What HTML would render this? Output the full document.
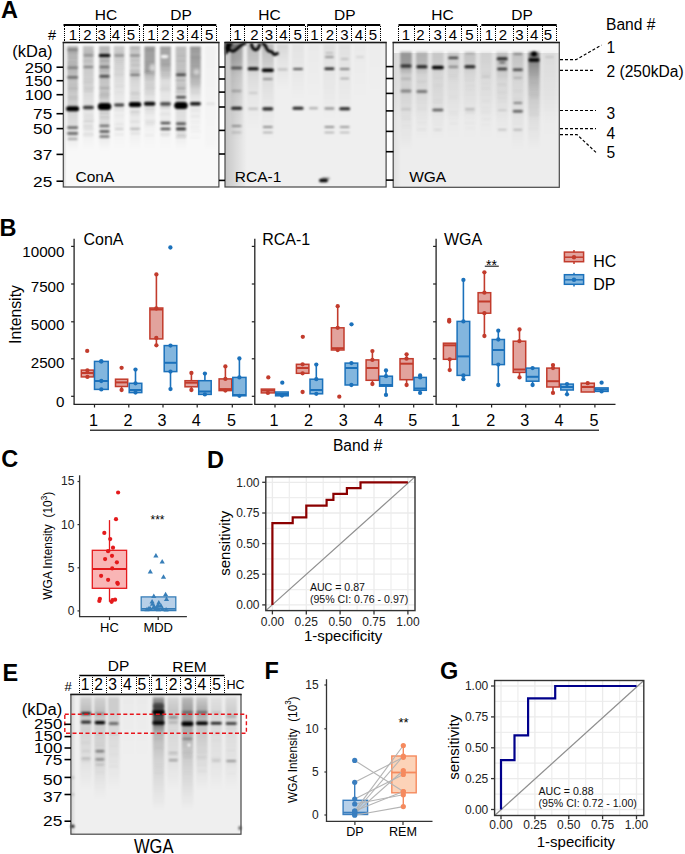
<!DOCTYPE html>
<html><head><meta charset="utf-8"><style>
html,body{margin:0;padding:0;background:#fff;width:685px;height:854px;overflow:hidden;}
svg{display:block;font-family:"Liberation Sans", sans-serif;}
</style></head><body>
<svg width="685" height="854" viewBox="0 0 685 854">
<defs>
<filter id="b1" filterUnits="userSpaceOnUse" x="0" y="0" width="685" height="854"><feGaussianBlur stdDeviation="1.3 0.9"/></filter>
<filter id="b2" filterUnits="userSpaceOnUse" x="0" y="0" width="685" height="854"><feGaussianBlur stdDeviation="1.5"/></filter>
<filter id="b3" filterUnits="userSpaceOnUse" x="0" y="0" width="685" height="854"><feGaussianBlur stdDeviation="1.3 1.5"/></filter>
<linearGradient id="g1" x1="0" y1="0" x2="1" y2="0"><stop offset="0.000" stop-color="#000" stop-opacity="0.140"/><stop offset="1.000" stop-color="#000" stop-opacity="0.000"/></linearGradient>
<linearGradient id="g2" x1="0" y1="0" x2="0" y2="1"><stop offset="0.000" stop-color="#000" stop-opacity="0.280"/><stop offset="0.286" stop-color="#000" stop-opacity="0.220"/><stop offset="0.524" stop-color="#000" stop-opacity="0.170"/><stop offset="0.762" stop-color="#000" stop-opacity="0.110"/><stop offset="0.905" stop-color="#000" stop-opacity="0.040"/><stop offset="1.000" stop-color="#000" stop-opacity="0.000"/></linearGradient>
<linearGradient id="g3" x1="0" y1="0" x2="0" y2="1"><stop offset="0.000" stop-color="#000" stop-opacity="0.200"/><stop offset="0.286" stop-color="#000" stop-opacity="0.170"/><stop offset="0.524" stop-color="#000" stop-opacity="0.100"/><stop offset="0.762" stop-color="#000" stop-opacity="0.050"/><stop offset="0.905" stop-color="#000" stop-opacity="0.020"/><stop offset="1.000" stop-color="#000" stop-opacity="0.000"/></linearGradient>
<linearGradient id="g4" x1="0" y1="0" x2="0" y2="1"><stop offset="0.000" stop-color="#000" stop-opacity="0.260"/><stop offset="0.286" stop-color="#000" stop-opacity="0.220"/><stop offset="0.524" stop-color="#000" stop-opacity="0.160"/><stop offset="0.762" stop-color="#000" stop-opacity="0.100"/><stop offset="0.905" stop-color="#000" stop-opacity="0.040"/><stop offset="1.000" stop-color="#000" stop-opacity="0.000"/></linearGradient>
<linearGradient id="g5" x1="0" y1="0" x2="0" y2="1"><stop offset="0.000" stop-color="#000" stop-opacity="0.180"/><stop offset="0.286" stop-color="#000" stop-opacity="0.120"/><stop offset="0.524" stop-color="#000" stop-opacity="0.060"/><stop offset="0.762" stop-color="#000" stop-opacity="0.030"/><stop offset="0.905" stop-color="#000" stop-opacity="0.010"/><stop offset="1.000" stop-color="#000" stop-opacity="0.000"/></linearGradient>
<linearGradient id="g6" x1="0" y1="0" x2="0" y2="1"><stop offset="0.000" stop-color="#000" stop-opacity="0.200"/><stop offset="0.286" stop-color="#000" stop-opacity="0.150"/><stop offset="0.524" stop-color="#000" stop-opacity="0.080"/><stop offset="0.762" stop-color="#000" stop-opacity="0.050"/><stop offset="0.905" stop-color="#000" stop-opacity="0.020"/><stop offset="1.000" stop-color="#000" stop-opacity="0.000"/></linearGradient>
<linearGradient id="g7" x1="0" y1="0" x2="0" y2="1"><stop offset="0.000" stop-color="#000" stop-opacity="0.360"/><stop offset="0.231" stop-color="#000" stop-opacity="0.340"/><stop offset="0.327" stop-color="#000" stop-opacity="0.160"/><stop offset="0.519" stop-color="#000" stop-opacity="0.080"/><stop offset="0.760" stop-color="#000" stop-opacity="0.030"/><stop offset="0.904" stop-color="#000" stop-opacity="0.010"/><stop offset="1.000" stop-color="#000" stop-opacity="0.000"/></linearGradient>
<linearGradient id="g8" x1="0" y1="0" x2="0" y2="1"><stop offset="0.000" stop-color="#000" stop-opacity="0.340"/><stop offset="0.183" stop-color="#000" stop-opacity="0.320"/><stop offset="0.308" stop-color="#000" stop-opacity="0.120"/><stop offset="0.519" stop-color="#000" stop-opacity="0.060"/><stop offset="0.760" stop-color="#000" stop-opacity="0.040"/><stop offset="0.904" stop-color="#000" stop-opacity="0.010"/><stop offset="1.000" stop-color="#000" stop-opacity="0.000"/></linearGradient>
<linearGradient id="g9" x1="0" y1="0" x2="0" y2="1"><stop offset="0.000" stop-color="#000" stop-opacity="0.240"/><stop offset="0.279" stop-color="#000" stop-opacity="0.200"/><stop offset="0.519" stop-color="#000" stop-opacity="0.120"/><stop offset="0.760" stop-color="#000" stop-opacity="0.090"/><stop offset="0.904" stop-color="#000" stop-opacity="0.030"/><stop offset="1.000" stop-color="#000" stop-opacity="0.000"/></linearGradient>
<linearGradient id="g10" x1="0" y1="0" x2="0" y2="1"><stop offset="0.000" stop-color="#000" stop-opacity="0.360"/><stop offset="0.309" stop-color="#000" stop-opacity="0.320"/><stop offset="0.468" stop-color="#000" stop-opacity="0.140"/><stop offset="0.574" stop-color="#000" stop-opacity="0.060"/><stop offset="0.840" stop-color="#000" stop-opacity="0.020"/><stop offset="1.000" stop-color="#000" stop-opacity="0.000"/></linearGradient>
<linearGradient id="g11" x1="0" y1="0" x2="0" y2="1"><stop offset="0.000" stop-color="#000" stop-opacity="0.030"/><stop offset="0.952" stop-color="#000" stop-opacity="0.010"/><stop offset="1.000" stop-color="#000" stop-opacity="0.000"/></linearGradient>
<linearGradient id="g12" x1="0" y1="0" x2="1" y2="0"><stop offset="0.000" stop-color="#000" stop-opacity="0.170"/><stop offset="1.000" stop-color="#000" stop-opacity="0.000"/></linearGradient>
<linearGradient id="g13" x1="0" y1="0" x2="0" y2="1"><stop offset="0.000" stop-color="#000" stop-opacity="0.300"/><stop offset="0.167" stop-color="#000" stop-opacity="0.250"/><stop offset="0.323" stop-color="#000" stop-opacity="0.120"/><stop offset="0.583" stop-color="#000" stop-opacity="0.060"/><stop offset="1.000" stop-color="#000" stop-opacity="0.000"/></linearGradient>
<linearGradient id="g14" x1="0" y1="0" x2="0" y2="1"><stop offset="0.000" stop-color="#000" stop-opacity="0.220"/><stop offset="0.186" stop-color="#000" stop-opacity="0.180"/><stop offset="0.360" stop-color="#000" stop-opacity="0.080"/><stop offset="0.651" stop-color="#000" stop-opacity="0.030"/><stop offset="1.000" stop-color="#000" stop-opacity="0.000"/></linearGradient>
<linearGradient id="g15" x1="0" y1="0" x2="0" y2="1"><stop offset="0.000" stop-color="#000" stop-opacity="0.220"/><stop offset="0.167" stop-color="#000" stop-opacity="0.160"/><stop offset="0.323" stop-color="#000" stop-opacity="0.080"/><stop offset="0.583" stop-color="#000" stop-opacity="0.040"/><stop offset="1.000" stop-color="#000" stop-opacity="0.000"/></linearGradient>
<linearGradient id="g16" x1="0" y1="0" x2="0" y2="1"><stop offset="0.000" stop-color="#000" stop-opacity="0.100"/><stop offset="0.348" stop-color="#000" stop-opacity="0.050"/><stop offset="1.000" stop-color="#000" stop-opacity="0.000"/></linearGradient>
<linearGradient id="g17" x1="0" y1="0" x2="0" y2="1"><stop offset="0.000" stop-color="#000" stop-opacity="0.050"/><stop offset="0.286" stop-color="#000" stop-opacity="0.040"/><stop offset="1.000" stop-color="#000" stop-opacity="0.000"/></linearGradient>
<linearGradient id="g18" x1="0" y1="0" x2="0" y2="1"><stop offset="0.000" stop-color="#000" stop-opacity="0.020"/><stop offset="1.000" stop-color="#000" stop-opacity="0.000"/></linearGradient>
<linearGradient id="g19" x1="0" y1="0" x2="0" y2="1"><stop offset="0.000" stop-color="#000" stop-opacity="0.060"/><stop offset="0.211" stop-color="#000" stop-opacity="0.050"/><stop offset="1.000" stop-color="#000" stop-opacity="0.000"/></linearGradient>
<linearGradient id="g20" x1="0" y1="0" x2="0" y2="1"><stop offset="0.000" stop-color="#000" stop-opacity="0.060"/><stop offset="0.211" stop-color="#000" stop-opacity="0.050"/><stop offset="1.000" stop-color="#000" stop-opacity="0.000"/></linearGradient>
<linearGradient id="g21" x1="0" y1="0" x2="0" y2="1"><stop offset="0.000" stop-color="#000" stop-opacity="0.020"/><stop offset="1.000" stop-color="#000" stop-opacity="0.000"/></linearGradient>
<linearGradient id="g22" x1="0" y1="0" x2="0" y2="1"><stop offset="0.000" stop-color="#000" stop-opacity="0.010"/><stop offset="1.000" stop-color="#000" stop-opacity="0.000"/></linearGradient>
<linearGradient id="g23" x1="0" y1="0" x2="1" y2="0"><stop offset="0.000" stop-color="#000" stop-opacity="0.060"/><stop offset="1.000" stop-color="#000" stop-opacity="0.000"/></linearGradient>
<linearGradient id="g24" x1="0" y1="0" x2="0" y2="1"><stop offset="0.000" stop-color="#000" stop-opacity="0.050"/><stop offset="0.600" stop-color="#000" stop-opacity="0.030"/><stop offset="1.000" stop-color="#000" stop-opacity="0.000"/></linearGradient>
<linearGradient id="g25" x1="0" y1="0" x2="0" y2="1"><stop offset="0.000" stop-color="#000" stop-opacity="1.000"/><stop offset="0.850" stop-color="#000" stop-opacity="0.900"/><stop offset="1.000" stop-color="#000" stop-opacity="0.000"/></linearGradient>
<linearGradient id="g26" x1="0" y1="0" x2="0" y2="1"><stop offset="0.000" stop-color="#000" stop-opacity="0.350"/><stop offset="0.143" stop-color="#000" stop-opacity="0.300"/><stop offset="0.235" stop-color="#000" stop-opacity="0.100"/><stop offset="0.490" stop-color="#000" stop-opacity="0.070"/><stop offset="0.898" stop-color="#000" stop-opacity="0.020"/><stop offset="1.000" stop-color="#000" stop-opacity="0.000"/></linearGradient>
<linearGradient id="g27" x1="0" y1="0" x2="0" y2="1"><stop offset="0.000" stop-color="#000" stop-opacity="0.220"/><stop offset="0.159" stop-color="#000" stop-opacity="0.180"/><stop offset="0.261" stop-color="#000" stop-opacity="0.070"/><stop offset="0.545" stop-color="#000" stop-opacity="0.050"/><stop offset="1.000" stop-color="#000" stop-opacity="0.000"/></linearGradient>
<linearGradient id="g28" x1="0" y1="0" x2="0" y2="1"><stop offset="0.000" stop-color="#000" stop-opacity="0.120"/><stop offset="0.159" stop-color="#000" stop-opacity="0.100"/><stop offset="0.261" stop-color="#000" stop-opacity="0.060"/><stop offset="0.545" stop-color="#000" stop-opacity="0.050"/><stop offset="1.000" stop-color="#000" stop-opacity="0.000"/></linearGradient>
<linearGradient id="g29" x1="0" y1="0" x2="0" y2="1"><stop offset="0.000" stop-color="#000" stop-opacity="0.120"/><stop offset="0.159" stop-color="#000" stop-opacity="0.080"/><stop offset="0.318" stop-color="#000" stop-opacity="0.040"/><stop offset="1.000" stop-color="#000" stop-opacity="0.000"/></linearGradient>
<linearGradient id="g30" x1="0" y1="0" x2="0" y2="1"><stop offset="0.000" stop-color="#000" stop-opacity="0.140"/><stop offset="0.159" stop-color="#000" stop-opacity="0.100"/><stop offset="0.318" stop-color="#000" stop-opacity="0.040"/><stop offset="1.000" stop-color="#000" stop-opacity="0.000"/></linearGradient>
<linearGradient id="g31" x1="0" y1="0" x2="0" y2="1"><stop offset="0.000" stop-color="#000" stop-opacity="0.080"/><stop offset="0.159" stop-color="#000" stop-opacity="0.060"/><stop offset="0.318" stop-color="#000" stop-opacity="0.040"/><stop offset="1.000" stop-color="#000" stop-opacity="0.000"/></linearGradient>
<linearGradient id="g32" x1="0" y1="0" x2="0" y2="1"><stop offset="0.000" stop-color="#000" stop-opacity="0.160"/><stop offset="0.205" stop-color="#000" stop-opacity="0.120"/><stop offset="0.318" stop-color="#000" stop-opacity="0.060"/><stop offset="1.000" stop-color="#000" stop-opacity="0.000"/></linearGradient>
<linearGradient id="g33" x1="0" y1="0" x2="0" y2="1"><stop offset="0.000" stop-color="#000" stop-opacity="0.140"/><stop offset="0.184" stop-color="#000" stop-opacity="0.100"/><stop offset="0.286" stop-color="#000" stop-opacity="0.060"/><stop offset="0.694" stop-color="#000" stop-opacity="0.040"/><stop offset="1.000" stop-color="#000" stop-opacity="0.000"/></linearGradient>
<linearGradient id="g34" x1="0" y1="0" x2="0" y2="1"><stop offset="0.000" stop-color="#000" stop-opacity="0.450"/><stop offset="0.102" stop-color="#000" stop-opacity="0.400"/><stop offset="0.286" stop-color="#000" stop-opacity="0.220"/><stop offset="0.490" stop-color="#000" stop-opacity="0.120"/><stop offset="0.694" stop-color="#000" stop-opacity="0.060"/><stop offset="1.000" stop-color="#000" stop-opacity="0.000"/></linearGradient>
<linearGradient id="g35" x1="0" y1="0" x2="0" y2="1"><stop offset="0.000" stop-color="#000" stop-opacity="0.030"/><stop offset="1.000" stop-color="#000" stop-opacity="0.000"/></linearGradient>
<linearGradient id="g36" x1="0" y1="0" x2="1" y2="0"><stop offset="0.000" stop-color="#000" stop-opacity="0.120"/><stop offset="1.000" stop-color="#000" stop-opacity="0.000"/></linearGradient>
<linearGradient id="g37" x1="0" y1="0" x2="0" y2="1"><stop offset="0.000" stop-color="#000" stop-opacity="0.120"/><stop offset="0.161" stop-color="#000" stop-opacity="0.220"/><stop offset="0.301" stop-color="#000" stop-opacity="0.120"/><stop offset="0.677" stop-color="#000" stop-opacity="0.060"/><stop offset="1.000" stop-color="#000" stop-opacity="0.000"/></linearGradient>
<linearGradient id="g38" x1="0" y1="0" x2="0" y2="1"><stop offset="0.000" stop-color="#000" stop-opacity="0.120"/><stop offset="0.146" stop-color="#000" stop-opacity="0.200"/><stop offset="0.272" stop-color="#000" stop-opacity="0.140"/><stop offset="0.612" stop-color="#000" stop-opacity="0.100"/><stop offset="0.903" stop-color="#000" stop-opacity="0.020"/><stop offset="1.000" stop-color="#000" stop-opacity="0.000"/></linearGradient>
<linearGradient id="g39" x1="0" y1="0" x2="0" y2="1"><stop offset="0.000" stop-color="#000" stop-opacity="0.140"/><stop offset="0.161" stop-color="#000" stop-opacity="0.140"/><stop offset="0.301" stop-color="#000" stop-opacity="0.100"/><stop offset="0.677" stop-color="#000" stop-opacity="0.050"/><stop offset="1.000" stop-color="#000" stop-opacity="0.000"/></linearGradient>
<linearGradient id="g40" x1="0" y1="0" x2="0" y2="1"><stop offset="0.000" stop-color="#000" stop-opacity="0.020"/><stop offset="1.000" stop-color="#000" stop-opacity="0.000"/></linearGradient>
<linearGradient id="g41" x1="0" y1="0" x2="0" y2="1"><stop offset="0.000" stop-color="#000" stop-opacity="0.020"/><stop offset="1.000" stop-color="#000" stop-opacity="0.000"/></linearGradient>
<linearGradient id="g42" x1="0" y1="0" x2="0" y2="1"><stop offset="0.000" stop-color="#000" stop-opacity="0.320"/><stop offset="0.071" stop-color="#000" stop-opacity="0.500"/><stop offset="0.133" stop-color="#000" stop-opacity="0.700"/><stop offset="0.221" stop-color="#000" stop-opacity="0.680"/><stop offset="0.265" stop-color="#000" stop-opacity="0.400"/><stop offset="0.336" stop-color="#000" stop-opacity="0.220"/><stop offset="0.558" stop-color="#000" stop-opacity="0.120"/><stop offset="0.912" stop-color="#000" stop-opacity="0.030"/><stop offset="1.000" stop-color="#000" stop-opacity="0.000"/></linearGradient>
<linearGradient id="g43" x1="0" y1="0" x2="0" y2="1"><stop offset="0.000" stop-color="#000" stop-opacity="0.100"/><stop offset="0.161" stop-color="#000" stop-opacity="0.180"/><stop offset="0.301" stop-color="#000" stop-opacity="0.100"/><stop offset="0.677" stop-color="#000" stop-opacity="0.060"/><stop offset="1.000" stop-color="#000" stop-opacity="0.000"/></linearGradient>
<linearGradient id="g44" x1="0" y1="0" x2="0" y2="1"><stop offset="0.000" stop-color="#000" stop-opacity="0.220"/><stop offset="0.133" stop-color="#000" stop-opacity="0.350"/><stop offset="0.248" stop-color="#000" stop-opacity="0.320"/><stop offset="0.381" stop-color="#000" stop-opacity="0.220"/><stop offset="0.558" stop-color="#000" stop-opacity="0.140"/><stop offset="0.912" stop-color="#000" stop-opacity="0.030"/><stop offset="1.000" stop-color="#000" stop-opacity="0.000"/></linearGradient>
<linearGradient id="g45" x1="0" y1="0" x2="0" y2="1"><stop offset="0.000" stop-color="#000" stop-opacity="0.140"/><stop offset="0.161" stop-color="#000" stop-opacity="0.300"/><stop offset="0.301" stop-color="#000" stop-opacity="0.180"/><stop offset="0.677" stop-color="#000" stop-opacity="0.080"/><stop offset="1.000" stop-color="#000" stop-opacity="0.000"/></linearGradient>
<linearGradient id="g46" x1="0" y1="0" x2="0" y2="1"><stop offset="0.000" stop-color="#000" stop-opacity="0.060"/><stop offset="0.161" stop-color="#000" stop-opacity="0.100"/><stop offset="0.301" stop-color="#000" stop-opacity="0.080"/><stop offset="0.677" stop-color="#000" stop-opacity="0.050"/><stop offset="1.000" stop-color="#000" stop-opacity="0.000"/></linearGradient>
<linearGradient id="g47" x1="0" y1="0" x2="0" y2="1"><stop offset="0.000" stop-color="#000" stop-opacity="0.080"/><stop offset="0.161" stop-color="#000" stop-opacity="0.140"/><stop offset="0.301" stop-color="#000" stop-opacity="0.080"/><stop offset="0.677" stop-color="#000" stop-opacity="0.050"/><stop offset="1.000" stop-color="#000" stop-opacity="0.000"/></linearGradient>
</defs>
<rect width="685" height="854" fill="#fff"/>
<text x="1.0" y="18.0" font-size="23.5" text-anchor="start" font-weight="bold" fill="#000" >A</text>
<rect x="63.3" y="42.5" width="155.6" height="144.5" fill="#f8f8f8" stroke="none" stroke-width="1" />
<rect x="63.3" y="42.5" width="3.5" height="144.5" fill="url(#g1)" stroke="none" stroke-width="1" />
<rect x="67.2" y="45.0" width="10.8" height="105.0" fill="url(#g2)" filter="url(#b3)"/>
<rect x="83.0" y="45.0" width="10.8" height="105.0" fill="url(#g3)" filter="url(#b3)"/>
<rect x="99.1" y="45.0" width="10.8" height="105.0" fill="url(#g4)" filter="url(#b3)"/>
<rect x="113.8" y="45.0" width="10.8" height="105.0" fill="url(#g5)" filter="url(#b3)"/>
<rect x="129.6" y="45.0" width="10.8" height="105.0" fill="url(#g6)" filter="url(#b3)"/>
<rect x="144.3" y="46.0" width="10.8" height="104.0" fill="url(#g7)" filter="url(#b3)"/>
<rect x="160.1" y="46.0" width="10.8" height="104.0" fill="url(#g8)" filter="url(#b3)"/>
<rect x="175.6" y="46.0" width="10.8" height="104.0" fill="url(#g9)" filter="url(#b3)"/>
<rect x="190.0" y="46.0" width="10.8" height="94.0" fill="url(#g10)" filter="url(#b3)"/>
<rect x="205.1" y="45.0" width="10.8" height="105.0" fill="url(#g11)" filter="url(#b3)"/>
<ellipse cx="164.5" cy="56.5" rx="4" ry="1.8" fill="#fff" fill-opacity="0.9" filter="url(#b1)"/>
<ellipse cx="152.5" cy="68" rx="3" ry="4" fill="#fff" fill-opacity="0.6" filter="url(#b2)"/>
<ellipse cx="196.5" cy="72" rx="3" ry="3" fill="#fff" fill-opacity="0.5" filter="url(#b2)"/>
<rect x="68.1" y="75.6" width="9.5" height="1.7" rx="0.9" fill="#000" fill-opacity="0.037" filter="url(#b1)"/>
<rect x="67.9" y="79.5" width="9.4" height="1.6" rx="0.8" fill="#000" fill-opacity="0.031" filter="url(#b1)"/>
<rect x="67.1" y="52.7" width="10.7" height="1.3" rx="0.7" fill="#000" fill-opacity="0.033" filter="url(#b1)"/>
<rect x="68.1" y="66.5" width="10.3" height="1.6" rx="0.8" fill="#000" fill-opacity="0.067" filter="url(#b1)"/>
<rect x="68.2" y="135.2" width="9.8" height="1.3" rx="0.7" fill="#000" fill-opacity="0.03" filter="url(#b1)"/>
<rect x="68.2" y="56.8" width="9.6" height="1.8" rx="0.9" fill="#000" fill-opacity="0.046" filter="url(#b1)"/>
<rect x="67.9" y="104.5" width="9.5" height="1.3" rx="0.6" fill="#000" fill-opacity="0.05" filter="url(#b1)"/>
<rect x="67.6" y="64.8" width="9.9" height="1.8" rx="0.9" fill="#000" fill-opacity="0.07" filter="url(#b1)"/>
<rect x="67.8" y="87.5" width="10.5" height="1.4" rx="0.7" fill="#000" fill-opacity="0.046" filter="url(#b1)"/>
<rect x="67.8" y="98.5" width="10.6" height="1.5" rx="0.7" fill="#000" fill-opacity="0.06" filter="url(#b1)"/>
<rect x="67.2" y="135.5" width="10.6" height="1.4" rx="0.7" fill="#000" fill-opacity="0.034" filter="url(#b1)"/>
<rect x="67.5" y="90.6" width="10.6" height="1.8" rx="0.9" fill="#000" fill-opacity="0.029" filter="url(#b1)"/>
<rect x="67.7" y="125.8" width="10.3" height="1.8" rx="0.9" fill="#000" fill-opacity="0.047" filter="url(#b1)"/>
<rect x="68.2" y="87.6" width="10.1" height="1.9" rx="0.9" fill="#000" fill-opacity="0.08" filter="url(#b1)"/>
<rect x="67.3" y="51.5" width="11.0" height="2.0" rx="1.0" fill="#000" fill-opacity="0.071" filter="url(#b1)"/>
<rect x="68.1" y="72.1" width="9.4" height="1.7" rx="0.8" fill="#000" fill-opacity="0.051" filter="url(#b1)"/>
<rect x="66.7" y="61.6" width="10.6" height="1.3" rx="0.7" fill="#000" fill-opacity="0.034" filter="url(#b1)"/>
<rect x="68.4" y="68.7" width="9.5" height="1.6" rx="0.8" fill="#000" fill-opacity="0.052" filter="url(#b1)"/>
<rect x="67.7" y="96.3" width="10.8" height="1.5" rx="0.7" fill="#000" fill-opacity="0.083" filter="url(#b1)"/>
<rect x="67.7" y="84.1" width="10.9" height="1.4" rx="0.7" fill="#000" fill-opacity="0.05" filter="url(#b1)"/>
<rect x="67.2" y="62.1" width="10.2" height="1.8" rx="0.9" fill="#000" fill-opacity="0.042" filter="url(#b1)"/>
<rect x="67.5" y="70.0" width="10.0" height="1.8" rx="0.9" fill="#000" fill-opacity="0.027" filter="url(#b1)"/>
<rect x="83.2" y="132.8" width="10.4" height="1.9" rx="0.9" fill="#000" fill-opacity="0.071" filter="url(#b1)"/>
<rect x="83.4" y="50.9" width="10.8" height="2.0" rx="1.0" fill="#000" fill-opacity="0.084" filter="url(#b1)"/>
<rect x="82.6" y="82.1" width="10.4" height="1.3" rx="0.6" fill="#000" fill-opacity="0.052" filter="url(#b1)"/>
<rect x="83.0" y="52.5" width="9.9" height="1.3" rx="0.6" fill="#000" fill-opacity="0.04" filter="url(#b1)"/>
<rect x="82.9" y="46.4" width="9.9" height="1.2" rx="0.6" fill="#000" fill-opacity="0.037" filter="url(#b1)"/>
<rect x="83.0" y="125.8" width="9.8" height="1.5" rx="0.8" fill="#000" fill-opacity="0.066" filter="url(#b1)"/>
<rect x="83.4" y="79.3" width="11.0" height="1.7" rx="0.8" fill="#000" fill-opacity="0.035" filter="url(#b1)"/>
<rect x="82.9" y="90.3" width="9.9" height="1.5" rx="0.7" fill="#000" fill-opacity="0.032" filter="url(#b1)"/>
<rect x="82.3" y="121.6" width="10.9" height="1.7" rx="0.9" fill="#000" fill-opacity="0.037" filter="url(#b1)"/>
<rect x="82.6" y="59.3" width="10.2" height="2.2" rx="1.1" fill="#000" fill-opacity="0.061" filter="url(#b1)"/>
<rect x="83.1" y="124.9" width="10.0" height="1.4" rx="0.7" fill="#000" fill-opacity="0.071" filter="url(#b1)"/>
<rect x="83.8" y="116.5" width="9.9" height="1.4" rx="0.7" fill="#000" fill-opacity="0.061" filter="url(#b1)"/>
<rect x="83.6" y="119.8" width="10.7" height="2.0" rx="1.0" fill="#000" fill-opacity="0.089" filter="url(#b1)"/>
<rect x="83.5" y="113.7" width="9.9" height="1.2" rx="0.6" fill="#000" fill-opacity="0.041" filter="url(#b1)"/>
<rect x="82.8" y="48.5" width="10.5" height="2.2" rx="1.1" fill="#000" fill-opacity="0.045" filter="url(#b1)"/>
<rect x="83.6" y="86.9" width="10.9" height="1.6" rx="0.8" fill="#000" fill-opacity="0.086" filter="url(#b1)"/>
<rect x="83.1" y="66.2" width="9.7" height="1.8" rx="0.9" fill="#000" fill-opacity="0.041" filter="url(#b1)"/>
<rect x="83.2" y="127.9" width="10.4" height="2.0" rx="1.0" fill="#000" fill-opacity="0.08" filter="url(#b1)"/>
<rect x="83.7" y="53.7" width="10.6" height="2.0" rx="1.0" fill="#000" fill-opacity="0.069" filter="url(#b1)"/>
<rect x="83.9" y="89.5" width="9.9" height="2.0" rx="1.0" fill="#000" fill-opacity="0.038" filter="url(#b1)"/>
<rect x="82.8" y="134.5" width="10.9" height="1.9" rx="1.0" fill="#000" fill-opacity="0.052" filter="url(#b1)"/>
<rect x="82.5" y="61.5" width="10.8" height="2.0" rx="1.0" fill="#000" fill-opacity="0.035" filter="url(#b1)"/>
<rect x="100.0" y="59.5" width="10.4" height="1.6" rx="0.8" fill="#000" fill-opacity="0.079" filter="url(#b1)"/>
<rect x="98.3" y="96.0" width="11.0" height="1.8" rx="0.9" fill="#000" fill-opacity="0.035" filter="url(#b1)"/>
<rect x="99.0" y="93.9" width="10.8" height="2.0" rx="1.0" fill="#000" fill-opacity="0.086" filter="url(#b1)"/>
<rect x="99.3" y="65.3" width="9.7" height="1.8" rx="0.9" fill="#000" fill-opacity="0.043" filter="url(#b1)"/>
<rect x="98.6" y="69.8" width="10.9" height="1.6" rx="0.8" fill="#000" fill-opacity="0.053" filter="url(#b1)"/>
<rect x="100.0" y="87.6" width="10.0" height="2.1" rx="1.1" fill="#000" fill-opacity="0.064" filter="url(#b1)"/>
<rect x="99.8" y="91.8" width="9.4" height="1.6" rx="0.8" fill="#000" fill-opacity="0.061" filter="url(#b1)"/>
<rect x="100.1" y="62.8" width="9.6" height="1.7" rx="0.8" fill="#000" fill-opacity="0.027" filter="url(#b1)"/>
<rect x="99.2" y="112.1" width="10.2" height="1.8" rx="0.9" fill="#000" fill-opacity="0.062" filter="url(#b1)"/>
<rect x="99.7" y="117.6" width="9.8" height="1.5" rx="0.7" fill="#000" fill-opacity="0.034" filter="url(#b1)"/>
<rect x="99.3" y="116.2" width="10.6" height="2.1" rx="1.1" fill="#000" fill-opacity="0.059" filter="url(#b1)"/>
<rect x="99.4" y="86.4" width="10.2" height="1.9" rx="0.9" fill="#000" fill-opacity="0.066" filter="url(#b1)"/>
<rect x="99.0" y="87.2" width="10.9" height="1.9" rx="0.9" fill="#000" fill-opacity="0.061" filter="url(#b1)"/>
<rect x="99.0" y="125.7" width="10.3" height="2.1" rx="1.1" fill="#000" fill-opacity="0.086" filter="url(#b1)"/>
<rect x="98.9" y="122.8" width="10.1" height="1.3" rx="0.6" fill="#000" fill-opacity="0.036" filter="url(#b1)"/>
<rect x="99.4" y="67.8" width="10.6" height="2.1" rx="1.0" fill="#000" fill-opacity="0.032" filter="url(#b1)"/>
<rect x="99.9" y="60.0" width="9.6" height="2.1" rx="1.0" fill="#000" fill-opacity="0.072" filter="url(#b1)"/>
<rect x="100.1" y="134.2" width="10.0" height="1.7" rx="0.8" fill="#000" fill-opacity="0.041" filter="url(#b1)"/>
<rect x="99.0" y="136.2" width="10.1" height="1.7" rx="0.9" fill="#000" fill-opacity="0.079" filter="url(#b1)"/>
<rect x="99.0" y="77.2" width="10.5" height="1.2" rx="0.6" fill="#000" fill-opacity="0.039" filter="url(#b1)"/>
<rect x="98.9" y="96.5" width="9.9" height="1.8" rx="0.9" fill="#000" fill-opacity="0.055" filter="url(#b1)"/>
<rect x="99.9" y="92.5" width="10.7" height="2.2" rx="1.1" fill="#000" fill-opacity="0.031" filter="url(#b1)"/>
<rect x="113.2" y="55.8" width="10.6" height="1.5" rx="0.7" fill="#000" fill-opacity="0.024" filter="url(#b1)"/>
<rect x="114.4" y="58.1" width="10.7" height="1.5" rx="0.7" fill="#000" fill-opacity="0.03" filter="url(#b1)"/>
<rect x="114.0" y="59.9" width="10.5" height="1.3" rx="0.6" fill="#000" fill-opacity="0.047" filter="url(#b1)"/>
<rect x="114.4" y="51.2" width="9.5" height="2.1" rx="1.1" fill="#000" fill-opacity="0.039" filter="url(#b1)"/>
<rect x="113.2" y="104.1" width="10.8" height="1.3" rx="0.6" fill="#000" fill-opacity="0.043" filter="url(#b1)"/>
<rect x="113.8" y="124.4" width="10.3" height="2.1" rx="1.1" fill="#000" fill-opacity="0.031" filter="url(#b1)"/>
<rect x="114.4" y="70.7" width="9.7" height="1.3" rx="0.7" fill="#000" fill-opacity="0.02" filter="url(#b1)"/>
<rect x="113.9" y="60.9" width="9.9" height="1.5" rx="0.8" fill="#000" fill-opacity="0.017" filter="url(#b1)"/>
<rect x="114.4" y="115.3" width="9.6" height="1.5" rx="0.8" fill="#000" fill-opacity="0.025" filter="url(#b1)"/>
<rect x="113.2" y="47.8" width="10.6" height="1.8" rx="0.9" fill="#000" fill-opacity="0.024" filter="url(#b1)"/>
<rect x="115.0" y="63.2" width="9.5" height="2.0" rx="1.0" fill="#000" fill-opacity="0.032" filter="url(#b1)"/>
<rect x="114.7" y="85.5" width="10.0" height="1.7" rx="0.9" fill="#000" fill-opacity="0.032" filter="url(#b1)"/>
<rect x="113.6" y="108.6" width="10.7" height="1.9" rx="1.0" fill="#000" fill-opacity="0.049" filter="url(#b1)"/>
<rect x="114.3" y="104.2" width="9.4" height="1.3" rx="0.7" fill="#000" fill-opacity="0.029" filter="url(#b1)"/>
<rect x="114.0" y="52.8" width="9.6" height="1.3" rx="0.6" fill="#000" fill-opacity="0.041" filter="url(#b1)"/>
<rect x="114.5" y="122.8" width="9.8" height="1.4" rx="0.7" fill="#000" fill-opacity="0.045" filter="url(#b1)"/>
<rect x="113.7" y="72.9" width="10.1" height="1.5" rx="0.7" fill="#000" fill-opacity="0.031" filter="url(#b1)"/>
<rect x="114.4" y="133.4" width="9.8" height="2.2" rx="1.1" fill="#000" fill-opacity="0.049" filter="url(#b1)"/>
<rect x="113.5" y="74.3" width="10.0" height="1.7" rx="0.8" fill="#000" fill-opacity="0.027" filter="url(#b1)"/>
<rect x="114.5" y="92.0" width="9.4" height="1.5" rx="0.7" fill="#000" fill-opacity="0.022" filter="url(#b1)"/>
<rect x="113.9" y="54.4" width="9.4" height="1.5" rx="0.8" fill="#000" fill-opacity="0.029" filter="url(#b1)"/>
<rect x="113.9" y="67.3" width="10.6" height="1.9" rx="0.9" fill="#000" fill-opacity="0.035" filter="url(#b1)"/>
<rect x="129.9" y="111.1" width="9.9" height="2.2" rx="1.1" fill="#000" fill-opacity="0.082" filter="url(#b1)"/>
<rect x="130.5" y="59.6" width="9.4" height="2.0" rx="1.0" fill="#000" fill-opacity="0.073" filter="url(#b1)"/>
<rect x="130.0" y="127.5" width="10.7" height="1.3" rx="0.7" fill="#000" fill-opacity="0.067" filter="url(#b1)"/>
<rect x="130.1" y="93.6" width="10.7" height="2.0" rx="1.0" fill="#000" fill-opacity="0.059" filter="url(#b1)"/>
<rect x="130.0" y="99.4" width="10.5" height="1.4" rx="0.7" fill="#000" fill-opacity="0.083" filter="url(#b1)"/>
<rect x="130.0" y="48.8" width="9.5" height="2.0" rx="1.0" fill="#000" fill-opacity="0.035" filter="url(#b1)"/>
<rect x="129.9" y="97.0" width="10.5" height="1.7" rx="0.8" fill="#000" fill-opacity="0.067" filter="url(#b1)"/>
<rect x="130.3" y="46.4" width="10.2" height="1.7" rx="0.9" fill="#000" fill-opacity="0.077" filter="url(#b1)"/>
<rect x="130.4" y="106.4" width="9.8" height="1.3" rx="0.6" fill="#000" fill-opacity="0.031" filter="url(#b1)"/>
<rect x="129.3" y="70.1" width="10.6" height="2.2" rx="1.1" fill="#000" fill-opacity="0.073" filter="url(#b1)"/>
<rect x="129.7" y="91.0" width="10.5" height="2.0" rx="1.0" fill="#000" fill-opacity="0.051" filter="url(#b1)"/>
<rect x="129.6" y="102.4" width="9.6" height="1.5" rx="0.7" fill="#000" fill-opacity="0.067" filter="url(#b1)"/>
<rect x="130.4" y="114.0" width="9.4" height="1.3" rx="0.6" fill="#000" fill-opacity="0.046" filter="url(#b1)"/>
<rect x="130.0" y="70.7" width="10.5" height="1.5" rx="0.7" fill="#000" fill-opacity="0.069" filter="url(#b1)"/>
<rect x="130.2" y="93.0" width="9.5" height="2.1" rx="1.0" fill="#000" fill-opacity="0.056" filter="url(#b1)"/>
<rect x="130.9" y="64.3" width="9.4" height="1.7" rx="0.8" fill="#000" fill-opacity="0.089" filter="url(#b1)"/>
<rect x="130.0" y="120.9" width="9.8" height="1.4" rx="0.7" fill="#000" fill-opacity="0.088" filter="url(#b1)"/>
<rect x="130.3" y="132.2" width="9.6" height="1.7" rx="0.9" fill="#000" fill-opacity="0.04" filter="url(#b1)"/>
<rect x="130.4" y="132.7" width="10.2" height="2.1" rx="1.0" fill="#000" fill-opacity="0.035" filter="url(#b1)"/>
<rect x="130.5" y="110.4" width="10.2" height="1.2" rx="0.6" fill="#000" fill-opacity="0.042" filter="url(#b1)"/>
<rect x="130.0" y="46.7" width="9.8" height="1.3" rx="0.7" fill="#000" fill-opacity="0.058" filter="url(#b1)"/>
<rect x="130.8" y="77.3" width="9.4" height="2.0" rx="1.0" fill="#000" fill-opacity="0.047" filter="url(#b1)"/>
<rect x="145.0" y="122.3" width="10.5" height="2.1" rx="1.1" fill="#000" fill-opacity="0.035" filter="url(#b1)"/>
<rect x="144.1" y="72.5" width="11.0" height="1.8" rx="0.9" fill="#000" fill-opacity="0.05" filter="url(#b1)"/>
<rect x="144.7" y="79.2" width="9.4" height="1.3" rx="0.7" fill="#000" fill-opacity="0.054" filter="url(#b1)"/>
<rect x="145.4" y="122.2" width="9.8" height="1.5" rx="0.7" fill="#000" fill-opacity="0.045" filter="url(#b1)"/>
<rect x="144.1" y="92.5" width="10.9" height="2.1" rx="1.0" fill="#000" fill-opacity="0.039" filter="url(#b1)"/>
<rect x="144.8" y="120.0" width="10.9" height="1.7" rx="0.9" fill="#000" fill-opacity="0.067" filter="url(#b1)"/>
<rect x="145.0" y="111.5" width="10.1" height="2.0" rx="1.0" fill="#000" fill-opacity="0.03" filter="url(#b1)"/>
<rect x="143.6" y="105.0" width="10.9" height="1.3" rx="0.7" fill="#000" fill-opacity="0.045" filter="url(#b1)"/>
<rect x="144.1" y="88.9" width="10.6" height="2.2" rx="1.1" fill="#000" fill-opacity="0.049" filter="url(#b1)"/>
<rect x="144.3" y="69.9" width="10.3" height="1.6" rx="0.8" fill="#000" fill-opacity="0.068" filter="url(#b1)"/>
<rect x="143.9" y="61.4" width="10.8" height="1.7" rx="0.8" fill="#000" fill-opacity="0.037" filter="url(#b1)"/>
<rect x="145.3" y="66.4" width="10.1" height="1.3" rx="0.7" fill="#000" fill-opacity="0.084" filter="url(#b1)"/>
<rect x="144.7" y="63.8" width="9.5" height="1.4" rx="0.7" fill="#000" fill-opacity="0.033" filter="url(#b1)"/>
<rect x="144.9" y="69.7" width="10.6" height="1.6" rx="0.8" fill="#000" fill-opacity="0.063" filter="url(#b1)"/>
<rect x="144.6" y="84.0" width="9.9" height="1.3" rx="0.6" fill="#000" fill-opacity="0.06" filter="url(#b1)"/>
<rect x="144.1" y="71.3" width="10.2" height="1.8" rx="0.9" fill="#000" fill-opacity="0.088" filter="url(#b1)"/>
<rect x="144.5" y="124.7" width="9.8" height="1.6" rx="0.8" fill="#000" fill-opacity="0.041" filter="url(#b1)"/>
<rect x="144.8" y="87.0" width="10.8" height="1.2" rx="0.6" fill="#000" fill-opacity="0.087" filter="url(#b1)"/>
<rect x="145.2" y="49.0" width="10.1" height="1.8" rx="0.9" fill="#000" fill-opacity="0.072" filter="url(#b1)"/>
<rect x="144.9" y="46.0" width="10.7" height="2.1" rx="1.0" fill="#000" fill-opacity="0.052" filter="url(#b1)"/>
<rect x="144.4" y="134.6" width="9.6" height="1.7" rx="0.9" fill="#000" fill-opacity="0.043" filter="url(#b1)"/>
<rect x="144.8" y="108.1" width="10.4" height="2.0" rx="1.0" fill="#000" fill-opacity="0.086" filter="url(#b1)"/>
<rect x="159.5" y="87.9" width="10.6" height="1.4" rx="0.7" fill="#000" fill-opacity="0.062" filter="url(#b1)"/>
<rect x="160.4" y="130.0" width="9.6" height="1.5" rx="0.7" fill="#000" fill-opacity="0.068" filter="url(#b1)"/>
<rect x="160.2" y="104.0" width="9.5" height="1.7" rx="0.9" fill="#000" fill-opacity="0.071" filter="url(#b1)"/>
<rect x="159.9" y="99.4" width="10.3" height="1.2" rx="0.6" fill="#000" fill-opacity="0.051" filter="url(#b1)"/>
<rect x="160.9" y="73.4" width="10.4" height="2.1" rx="1.0" fill="#000" fill-opacity="0.056" filter="url(#b1)"/>
<rect x="159.7" y="89.3" width="10.9" height="1.9" rx="1.0" fill="#000" fill-opacity="0.042" filter="url(#b1)"/>
<rect x="160.3" y="74.2" width="10.5" height="1.6" rx="0.8" fill="#000" fill-opacity="0.028" filter="url(#b1)"/>
<rect x="161.2" y="69.8" width="9.7" height="1.2" rx="0.6" fill="#000" fill-opacity="0.069" filter="url(#b1)"/>
<rect x="160.9" y="76.8" width="9.7" height="2.0" rx="1.0" fill="#000" fill-opacity="0.053" filter="url(#b1)"/>
<rect x="159.6" y="113.5" width="11.0" height="1.5" rx="0.8" fill="#000" fill-opacity="0.059" filter="url(#b1)"/>
<rect x="159.8" y="120.9" width="10.6" height="1.5" rx="0.7" fill="#000" fill-opacity="0.042" filter="url(#b1)"/>
<rect x="160.2" y="132.8" width="9.7" height="1.6" rx="0.8" fill="#000" fill-opacity="0.058" filter="url(#b1)"/>
<rect x="160.0" y="106.8" width="10.0" height="1.4" rx="0.7" fill="#000" fill-opacity="0.087" filter="url(#b1)"/>
<rect x="160.1" y="134.8" width="9.4" height="1.6" rx="0.8" fill="#000" fill-opacity="0.036" filter="url(#b1)"/>
<rect x="160.3" y="127.7" width="11.0" height="2.1" rx="1.1" fill="#000" fill-opacity="0.083" filter="url(#b1)"/>
<rect x="160.8" y="76.3" width="10.6" height="1.2" rx="0.6" fill="#000" fill-opacity="0.039" filter="url(#b1)"/>
<rect x="160.4" y="106.8" width="9.9" height="1.4" rx="0.7" fill="#000" fill-opacity="0.051" filter="url(#b1)"/>
<rect x="159.8" y="46.6" width="10.9" height="1.3" rx="0.7" fill="#000" fill-opacity="0.045" filter="url(#b1)"/>
<rect x="159.9" y="133.7" width="10.7" height="2.0" rx="1.0" fill="#000" fill-opacity="0.04" filter="url(#b1)"/>
<rect x="160.5" y="85.3" width="10.0" height="2.1" rx="1.1" fill="#000" fill-opacity="0.03" filter="url(#b1)"/>
<rect x="161.4" y="63.8" width="9.4" height="1.6" rx="0.8" fill="#000" fill-opacity="0.05" filter="url(#b1)"/>
<rect x="160.2" y="120.2" width="9.4" height="1.3" rx="0.6" fill="#000" fill-opacity="0.075" filter="url(#b1)"/>
<rect x="175.9" y="130.0" width="10.8" height="1.5" rx="0.8" fill="#000" fill-opacity="0.043" filter="url(#b1)"/>
<rect x="176.3" y="70.8" width="9.8" height="1.9" rx="1.0" fill="#000" fill-opacity="0.087" filter="url(#b1)"/>
<rect x="175.0" y="74.7" width="10.6" height="2.1" rx="1.1" fill="#000" fill-opacity="0.044" filter="url(#b1)"/>
<rect x="175.5" y="103.9" width="9.7" height="1.7" rx="0.8" fill="#000" fill-opacity="0.086" filter="url(#b1)"/>
<rect x="176.0" y="133.3" width="9.8" height="1.6" rx="0.8" fill="#000" fill-opacity="0.087" filter="url(#b1)"/>
<rect x="175.2" y="90.9" width="10.7" height="1.9" rx="1.0" fill="#000" fill-opacity="0.085" filter="url(#b1)"/>
<rect x="176.2" y="121.1" width="9.9" height="1.5" rx="0.8" fill="#000" fill-opacity="0.076" filter="url(#b1)"/>
<rect x="175.6" y="79.0" width="9.7" height="2.0" rx="1.0" fill="#000" fill-opacity="0.076" filter="url(#b1)"/>
<rect x="175.2" y="68.7" width="10.3" height="1.5" rx="0.8" fill="#000" fill-opacity="0.031" filter="url(#b1)"/>
<rect x="176.8" y="135.6" width="9.8" height="1.3" rx="0.6" fill="#000" fill-opacity="0.083" filter="url(#b1)"/>
<rect x="176.2" y="55.1" width="10.1" height="1.4" rx="0.7" fill="#000" fill-opacity="0.058" filter="url(#b1)"/>
<rect x="176.0" y="83.9" width="10.6" height="2.0" rx="1.0" fill="#000" fill-opacity="0.066" filter="url(#b1)"/>
<rect x="176.6" y="106.6" width="9.8" height="1.8" rx="0.9" fill="#000" fill-opacity="0.035" filter="url(#b1)"/>
<rect x="175.7" y="80.2" width="9.8" height="1.4" rx="0.7" fill="#000" fill-opacity="0.073" filter="url(#b1)"/>
<rect x="176.2" y="60.2" width="9.9" height="1.6" rx="0.8" fill="#000" fill-opacity="0.083" filter="url(#b1)"/>
<rect x="175.3" y="136.4" width="10.7" height="1.9" rx="0.9" fill="#000" fill-opacity="0.059" filter="url(#b1)"/>
<rect x="175.6" y="136.2" width="10.7" height="2.0" rx="1.0" fill="#000" fill-opacity="0.033" filter="url(#b1)"/>
<rect x="175.9" y="129.5" width="9.5" height="1.4" rx="0.7" fill="#000" fill-opacity="0.03" filter="url(#b1)"/>
<rect x="176.6" y="134.5" width="10.0" height="2.1" rx="1.0" fill="#000" fill-opacity="0.064" filter="url(#b1)"/>
<rect x="175.9" y="87.2" width="10.9" height="1.3" rx="0.7" fill="#000" fill-opacity="0.043" filter="url(#b1)"/>
<rect x="175.6" y="100.6" width="10.0" height="1.3" rx="0.7" fill="#000" fill-opacity="0.066" filter="url(#b1)"/>
<rect x="175.9" y="64.9" width="10.4" height="1.4" rx="0.7" fill="#000" fill-opacity="0.043" filter="url(#b1)"/>
<rect x="190.8" y="47.3" width="9.7" height="1.5" rx="0.8" fill="#000" fill-opacity="0.026" filter="url(#b1)"/>
<rect x="190.7" y="64.9" width="9.5" height="1.3" rx="0.7" fill="#000" fill-opacity="0.043" filter="url(#b1)"/>
<rect x="190.8" y="82.3" width="9.5" height="1.4" rx="0.7" fill="#000" fill-opacity="0.034" filter="url(#b1)"/>
<rect x="190.2" y="109.2" width="9.9" height="2.2" rx="1.1" fill="#000" fill-opacity="0.029" filter="url(#b1)"/>
<rect x="190.2" y="74.4" width="10.0" height="2.1" rx="1.0" fill="#000" fill-opacity="0.035" filter="url(#b1)"/>
<rect x="189.7" y="137.0" width="10.6" height="1.4" rx="0.7" fill="#000" fill-opacity="0.028" filter="url(#b1)"/>
<rect x="189.9" y="46.7" width="10.7" height="1.6" rx="0.8" fill="#000" fill-opacity="0.047" filter="url(#b1)"/>
<rect x="190.2" y="126.5" width="9.4" height="1.8" rx="0.9" fill="#000" fill-opacity="0.031" filter="url(#b1)"/>
<rect x="189.6" y="104.5" width="10.4" height="1.6" rx="0.8" fill="#000" fill-opacity="0.047" filter="url(#b1)"/>
<rect x="190.0" y="91.8" width="10.2" height="2.1" rx="1.1" fill="#000" fill-opacity="0.02" filter="url(#b1)"/>
<rect x="190.4" y="56.2" width="10.9" height="1.4" rx="0.7" fill="#000" fill-opacity="0.032" filter="url(#b1)"/>
<rect x="191.0" y="57.9" width="10.1" height="1.3" rx="0.6" fill="#000" fill-opacity="0.048" filter="url(#b1)"/>
<rect x="190.8" y="130.3" width="10.4" height="2.0" rx="1.0" fill="#000" fill-opacity="0.029" filter="url(#b1)"/>
<rect x="190.0" y="60.6" width="10.0" height="2.0" rx="1.0" fill="#000" fill-opacity="0.043" filter="url(#b1)"/>
<rect x="190.0" y="121.6" width="10.0" height="1.7" rx="0.9" fill="#000" fill-opacity="0.021" filter="url(#b1)"/>
<rect x="189.8" y="80.9" width="10.5" height="2.1" rx="1.0" fill="#000" fill-opacity="0.019" filter="url(#b1)"/>
<rect x="191.1" y="49.7" width="9.4" height="2.0" rx="1.0" fill="#000" fill-opacity="0.035" filter="url(#b1)"/>
<rect x="190.3" y="57.0" width="10.4" height="1.5" rx="0.8" fill="#000" fill-opacity="0.036" filter="url(#b1)"/>
<rect x="190.1" y="84.4" width="10.4" height="1.6" rx="0.8" fill="#000" fill-opacity="0.035" filter="url(#b1)"/>
<rect x="190.5" y="86.2" width="10.2" height="1.4" rx="0.7" fill="#000" fill-opacity="0.016" filter="url(#b1)"/>
<rect x="190.5" y="115.6" width="9.6" height="1.7" rx="0.8" fill="#000" fill-opacity="0.042" filter="url(#b1)"/>
<rect x="190.6" y="55.9" width="9.5" height="1.6" rx="0.8" fill="#000" fill-opacity="0.019" filter="url(#b1)"/>
<rect x="66.1" y="106.2" width="13.0" height="5.0" rx="2.5" fill="#000" fill-opacity="1" filter="url(#b1)"/>
<rect x="67.1" y="48.7" width="11.0" height="2.0" rx="1.0" fill="#000" fill-opacity="0.35" filter="url(#b1)"/>
<rect x="67.1" y="66.7" width="11.0" height="2.0" rx="1.0" fill="#000" fill-opacity="0.35" filter="url(#b1)"/>
<rect x="67.1" y="76.3" width="11.0" height="2.2" rx="1.1" fill="#000" fill-opacity="0.5" filter="url(#b1)"/>
<rect x="67.1" y="126.5" width="11.0" height="2.2" rx="1.1" fill="#000" fill-opacity="0.6" filter="url(#b1)"/>
<rect x="67.1" y="132.0" width="11.0" height="2.8" rx="1.4" fill="#000" fill-opacity="0.55" filter="url(#b1)"/>
<rect x="67.6" y="138.0" width="10.0" height="2.0" rx="1.0" fill="#000" fill-opacity="0.3" filter="url(#b1)"/>
<rect x="82.9" y="105.8" width="11.0" height="3.5" rx="1.8" fill="#000" fill-opacity="0.75" filter="url(#b1)"/>
<rect x="83.4" y="54.5" width="10.0" height="2.0" rx="1.0" fill="#000" fill-opacity="0.3" filter="url(#b1)"/>
<rect x="83.4" y="66.0" width="10.0" height="2.0" rx="1.0" fill="#000" fill-opacity="0.35" filter="url(#b1)"/>
<rect x="97.8" y="103.1" width="13.5" height="7.0" rx="3.5" fill="#000" fill-opacity="1" filter="url(#b1)"/>
<rect x="98.8" y="54.0" width="11.5" height="3.0" rx="1.5" fill="#000" fill-opacity="0.95" filter="url(#b1)"/>
<rect x="99.5" y="66.0" width="10.0" height="2.0" rx="1.0" fill="#000" fill-opacity="0.45" filter="url(#b1)"/>
<rect x="99.5" y="75.0" width="10.0" height="2.4" rx="1.2" fill="#000" fill-opacity="0.65" filter="url(#b1)"/>
<rect x="99.5" y="124.7" width="10.0" height="2.0" rx="1.0" fill="#000" fill-opacity="0.55" filter="url(#b1)"/>
<rect x="99.5" y="130.3" width="10.0" height="2.4" rx="1.2" fill="#000" fill-opacity="0.65" filter="url(#b1)"/>
<rect x="99.5" y="135.6" width="10.0" height="2.0" rx="1.0" fill="#000" fill-opacity="0.55" filter="url(#b1)"/>
<rect x="114.2" y="103.6" width="10.0" height="2.8" rx="1.4" fill="#000" fill-opacity="0.75" filter="url(#b1)"/>
<rect x="114.2" y="54.5" width="10.0" height="2.0" rx="1.0" fill="#000" fill-opacity="0.35" filter="url(#b1)"/>
<rect x="114.7" y="128.0" width="9.0" height="2.0" rx="1.0" fill="#000" fill-opacity="0.15" filter="url(#b1)"/>
<rect x="128.8" y="101.9" width="12.5" height="5.0" rx="2.5" fill="#000" fill-opacity="1" filter="url(#b1)"/>
<rect x="130.0" y="54.5" width="10.0" height="2.0" rx="1.0" fill="#000" fill-opacity="0.35" filter="url(#b1)"/>
<rect x="130.0" y="73.7" width="10.0" height="2.2" rx="1.1" fill="#000" fill-opacity="0.45" filter="url(#b1)"/>
<rect x="130.0" y="127.9" width="10.0" height="2.0" rx="1.0" fill="#000" fill-opacity="0.2" filter="url(#b1)"/>
<rect x="143.9" y="101.7" width="11.5" height="4.0" rx="2.0" fill="#000" fill-opacity="0.95" filter="url(#b1)"/>
<rect x="160.0" y="101.9" width="11.0" height="3.8" rx="1.9" fill="#000" fill-opacity="0.65" filter="url(#b1)"/>
<rect x="160.5" y="121.9" width="10.0" height="2.4" rx="1.2" fill="#000" fill-opacity="0.7" filter="url(#b1)"/>
<rect x="160.5" y="127.7" width="10.0" height="2.4" rx="1.2" fill="#000" fill-opacity="0.65" filter="url(#b1)"/>
<rect x="174.2" y="102.0" width="13.5" height="7.0" rx="3.5" fill="#000" fill-opacity="1" filter="url(#b1)"/>
<rect x="176.0" y="96.3" width="10.0" height="2.0" rx="1.0" fill="#000" fill-opacity="0.8" filter="url(#b1)"/>
<rect x="176.0" y="73.6" width="10.0" height="2.4" rx="1.2" fill="#000" fill-opacity="0.65" filter="url(#b1)"/>
<rect x="176.5" y="87.4" width="9.0" height="1.8" rx="0.9" fill="#000" fill-opacity="0.25" filter="url(#b1)"/>
<rect x="176.0" y="122.5" width="10.0" height="2.4" rx="1.2" fill="#000" fill-opacity="0.65" filter="url(#b1)"/>
<rect x="176.0" y="127.6" width="10.0" height="2.6" rx="1.3" fill="#000" fill-opacity="0.8" filter="url(#b1)"/>
<rect x="189.9" y="102.0" width="11.0" height="3.5" rx="1.8" fill="#000" fill-opacity="0.9" filter="url(#b1)"/>
<rect x="206.0" y="102.8" width="9.0" height="2.0" rx="1.0" fill="#000" fill-opacity="0.08" filter="url(#b1)"/>
<rect x="64.0" y="43.2" width="154.3" height="2.2" fill="#fdfdfd" stroke="none" stroke-width="1" filter="url(#b1)"/>
<text x="75.5" y="182.2" font-size="15.5" text-anchor="start" font-weight="normal" fill="#000" >ConA</text>
<rect x="63.3" y="42.5" width="155.6" height="144.5" fill="none" stroke="#474747" stroke-width="1.2" />
<line x1="62.7" y1="42.5" x2="219.5" y2="42.5" stroke="#1a1a1a" stroke-width="1.5" />
<rect x="225.0" y="42.5" width="161.1" height="144.5" fill="#efefef" stroke="none" stroke-width="1" />
<rect x="225.0" y="42.5" width="22.0" height="144.5" fill="url(#g12)" stroke="none" stroke-width="1" />
<rect x="230.6" y="44.0" width="12.0" height="96.0" fill="url(#g13)" filter="url(#b3)"/>
<rect x="247.2" y="44.0" width="12.0" height="86.0" fill="url(#g14)" filter="url(#b3)"/>
<rect x="261.8" y="44.0" width="12.0" height="96.0" fill="url(#g15)" filter="url(#b3)"/>
<rect x="276.6" y="44.0" width="12.0" height="46.0" fill="url(#g16)" filter="url(#b3)"/>
<rect x="292.0" y="44.0" width="12.0" height="56.0" fill="url(#g17)" filter="url(#b3)"/>
<rect x="307.5" y="44.0" width="12.0" height="56.0" fill="url(#g18)" filter="url(#b3)"/>
<rect x="323.4" y="44.0" width="12.0" height="76.0" fill="url(#g19)" filter="url(#b3)"/>
<rect x="338.7" y="44.0" width="12.0" height="76.0" fill="url(#g20)" filter="url(#b3)"/>
<rect x="354.0" y="44.0" width="12.0" height="56.0" fill="url(#g21)" filter="url(#b3)"/>
<rect x="369.3" y="44.0" width="12.0" height="56.0" fill="url(#g22)" filter="url(#b3)"/>
<path d="M226,47 Q230,51 233.5,51.2 Q237,49 240,46 Q243,43.5 246,43.2 M251.3,43 Q252,49.3 255.5,49.9 Q259,49.3 259.8,43.5 M262,43.4 Q265,44 266,47 Q267,51 270,51.4 Q272.5,51.6 273.5,54 Q275,55.6 276.6,53.6 L278.6,53.3" fill="none" stroke="#000" stroke-width="2.8" stroke-opacity="1" filter="url(#b1)"/>
<path d="M225.5,42.8 L233,42.8 Q231,47 229.5,50.5 Q228,54 225.5,55 Z" fill="#000" fill-opacity="1" filter="url(#b1)"/>
<path d="M232,43 L250,43 L246,44.5 L240,46 L236,49 L233,50 L229,48 Z" fill="#000" fill-opacity="0.25" filter="url(#b2)"/>
<rect x="231.1" y="66.8" width="11.0" height="2.4" rx="1.2" fill="#000" fill-opacity="0.6" filter="url(#b1)"/>
<rect x="247.7" y="67.2" width="11.0" height="3.0" rx="1.5" fill="#000" fill-opacity="0.95" filter="url(#b1)"/>
<rect x="261.8" y="68.5" width="12.0" height="3.5" rx="1.8" fill="#000" fill-opacity="1" filter="url(#b1)"/>
<rect x="277.6" y="68.6" width="10.0" height="1.8" rx="0.9" fill="#000" fill-opacity="0.2" filter="url(#b1)"/>
<rect x="293.0" y="67.9" width="10.0" height="2.2" rx="1.1" fill="#000" fill-opacity="0.65" filter="url(#b1)"/>
<rect x="324.4" y="67.5" width="10.0" height="2.4" rx="1.2" fill="#000" fill-opacity="0.85" filter="url(#b1)"/>
<rect x="339.7" y="67.9" width="10.0" height="2.0" rx="1.0" fill="#000" fill-opacity="0.45" filter="url(#b1)"/>
<rect x="340.7" y="58.2" width="8.0" height="1.5" rx="0.8" fill="#000" fill-opacity="0.2" filter="url(#b1)"/>
<rect x="324.9" y="56.0" width="9.0" height="2.0" rx="1.0" fill="#000" fill-opacity="0.35" filter="url(#b1)"/>
<rect x="325.4" y="52.2" width="8.0" height="1.5" rx="0.8" fill="#000" fill-opacity="0.2" filter="url(#b1)"/>
<rect x="356.0" y="56.2" width="8.0" height="1.6" rx="0.8" fill="#000" fill-opacity="0.12" filter="url(#b1)"/>
<rect x="262.8" y="77.9" width="10.0" height="2.0" rx="1.0" fill="#000" fill-opacity="0.35" filter="url(#b1)"/>
<rect x="340.2" y="77.7" width="9.0" height="1.6" rx="0.8" fill="#000" fill-opacity="0.3" filter="url(#b1)"/>
<rect x="231.6" y="89.8" width="10.0" height="2.4" rx="1.2" fill="#000" fill-opacity="0.22" filter="url(#b1)"/>
<rect x="248.7" y="92.0" width="9.0" height="2.0" rx="1.0" fill="#000" fill-opacity="0.12" filter="url(#b1)"/>
<rect x="231.1" y="106.8" width="11.0" height="3.0" rx="1.5" fill="#000" fill-opacity="0.85" filter="url(#b1)"/>
<rect x="248.2" y="107.8" width="10.0" height="2.0" rx="1.0" fill="#000" fill-opacity="0.2" filter="url(#b1)"/>
<rect x="262.3" y="107.2" width="11.0" height="3.2" rx="1.6" fill="#000" fill-opacity="0.85" filter="url(#b1)"/>
<rect x="292.5" y="106.7" width="11.0" height="3.0" rx="1.5" fill="#000" fill-opacity="0.85" filter="url(#b1)"/>
<rect x="309.0" y="107.2" width="9.0" height="2.0" rx="1.0" fill="#000" fill-opacity="0.3" filter="url(#b1)"/>
<rect x="324.4" y="107.4" width="10.0" height="2.0" rx="1.0" fill="#000" fill-opacity="0.45" filter="url(#b1)"/>
<rect x="339.2" y="107.3" width="11.0" height="3.0" rx="1.5" fill="#000" fill-opacity="0.85" filter="url(#b1)"/>
<rect x="231.6" y="124.9" width="10.0" height="2.2" rx="1.1" fill="#000" fill-opacity="0.35" filter="url(#b1)"/>
<rect x="231.6" y="131.7" width="10.0" height="1.6" rx="0.8" fill="#000" fill-opacity="0.2" filter="url(#b1)"/>
<rect x="262.8" y="126.0" width="10.0" height="2.0" rx="1.0" fill="#000" fill-opacity="0.4" filter="url(#b1)"/>
<rect x="262.8" y="131.7" width="10.0" height="1.6" rx="0.8" fill="#000" fill-opacity="0.3" filter="url(#b1)"/>
<rect x="324.4" y="126.0" width="10.0" height="2.0" rx="1.0" fill="#000" fill-opacity="0.4" filter="url(#b1)"/>
<rect x="324.4" y="131.7" width="10.0" height="1.6" rx="0.8" fill="#000" fill-opacity="0.3" filter="url(#b1)"/>
<rect x="339.7" y="126.0" width="10.0" height="2.0" rx="1.0" fill="#000" fill-opacity="0.35" filter="url(#b1)"/>
<rect x="339.7" y="131.7" width="10.0" height="1.6" rx="0.8" fill="#000" fill-opacity="0.25" filter="url(#b1)"/>
<rect x="319.0" y="178.8" width="9.0" height="3.5" rx="1.8" fill="#000" fill-opacity="1" filter="url(#b1)"/>
<rect x="322.0" y="177.5" width="8.0" height="2.0" rx="1.0" fill="#000" fill-opacity="0.4" filter="url(#b1)"/>
<text x="234.8" y="182.4" font-size="15.5" text-anchor="start" font-weight="normal" fill="#000" >RCA-1</text>
<rect x="225.0" y="42.5" width="161.1" height="144.5" fill="none" stroke="#474747" stroke-width="1.2" />
<line x1="224.4" y1="42.5" x2="386.7" y2="42.5" stroke="#1a1a1a" stroke-width="1.5" />
<rect x="393.2" y="42.5" width="166.1" height="144.8" fill="#ededed" stroke="none" stroke-width="1" />
<rect x="393.2" y="42.5" width="8.0" height="144.8" fill="url(#g23)" stroke="none" stroke-width="1" />
<rect x="393.2" y="52.0" width="166.1" height="70.0" fill="url(#g24)" stroke="none" stroke-width="1" />
<rect x="394" y="43" width="164.6" height="10" fill="#f6f6f6" />
<rect x="400.2" y="52.0" width="11.5" height="98.0" fill="url(#g26)" filter="url(#b3)"/>
<rect x="416.1" y="52.0" width="11.5" height="88.0" fill="url(#g27)" filter="url(#b3)"/>
<rect x="432.1" y="52.0" width="11.5" height="88.0" fill="url(#g28)" filter="url(#b3)"/>
<rect x="447.6" y="52.0" width="11.5" height="88.0" fill="url(#g29)" filter="url(#b3)"/>
<rect x="464.1" y="52.0" width="11.5" height="88.0" fill="url(#g30)" filter="url(#b3)"/>
<rect x="480.2" y="52.0" width="11.5" height="88.0" fill="url(#g31)" filter="url(#b3)"/>
<rect x="496.4" y="52.0" width="11.5" height="88.0" fill="url(#g32)" filter="url(#b3)"/>
<rect x="512.0" y="52.0" width="11.5" height="98.0" fill="url(#g33)" filter="url(#b3)"/>
<rect x="528.2" y="52.0" width="11.5" height="98.0" fill="url(#g34)" filter="url(#b3)"/>
<rect x="543.8" y="52.0" width="11.5" height="88.0" fill="url(#g35)" filter="url(#b3)"/>
<rect x="401.7" y="100.6" width="9.1" height="1.9" rx="1.0" fill="#000" fill-opacity="0.01" filter="url(#b1)"/>
<rect x="400.5" y="116.3" width="9.7" height="1.6" rx="0.8" fill="#000" fill-opacity="0.02" filter="url(#b1)"/>
<rect x="401.3" y="126.2" width="10.5" height="1.9" rx="1.0" fill="#000" fill-opacity="0.012" filter="url(#b1)"/>
<rect x="401.8" y="118.2" width="9.7" height="2.2" rx="1.1" fill="#000" fill-opacity="0.013" filter="url(#b1)"/>
<rect x="401.2" y="124.5" width="10.4" height="1.3" rx="0.6" fill="#000" fill-opacity="0.012" filter="url(#b1)"/>
<rect x="400.4" y="91.6" width="10.3" height="1.5" rx="0.7" fill="#000" fill-opacity="0.025" filter="url(#b1)"/>
<rect x="400.8" y="118.6" width="10.4" height="1.4" rx="0.7" fill="#000" fill-opacity="0.012" filter="url(#b1)"/>
<rect x="401.3" y="86.6" width="9.0" height="1.4" rx="0.7" fill="#000" fill-opacity="0.02" filter="url(#b1)"/>
<rect x="417.0" y="80.7" width="10.3" height="1.4" rx="0.7" fill="#000" fill-opacity="0.029" filter="url(#b1)"/>
<rect x="417.0" y="116.7" width="9.9" height="1.6" rx="0.8" fill="#000" fill-opacity="0.011" filter="url(#b1)"/>
<rect x="416.9" y="122.0" width="10.3" height="1.3" rx="0.7" fill="#000" fill-opacity="0.021" filter="url(#b1)"/>
<rect x="416.7" y="128.9" width="10.2" height="1.5" rx="0.7" fill="#000" fill-opacity="0.022" filter="url(#b1)"/>
<rect x="416.6" y="128.6" width="10.1" height="1.6" rx="0.8" fill="#000" fill-opacity="0.021" filter="url(#b1)"/>
<rect x="416.2" y="81.5" width="10.2" height="1.5" rx="0.7" fill="#000" fill-opacity="0.025" filter="url(#b1)"/>
<rect x="417.0" y="108.3" width="10.0" height="1.5" rx="0.8" fill="#000" fill-opacity="0.03" filter="url(#b1)"/>
<rect x="416.5" y="71.3" width="9.9" height="1.6" rx="0.8" fill="#000" fill-opacity="0.01" filter="url(#b1)"/>
<rect x="432.6" y="100.8" width="9.3" height="1.9" rx="0.9" fill="#000" fill-opacity="0.028" filter="url(#b1)"/>
<rect x="433.1" y="72.5" width="9.1" height="1.6" rx="0.8" fill="#000" fill-opacity="0.009" filter="url(#b1)"/>
<rect x="433.3" y="84.1" width="9.2" height="1.8" rx="0.9" fill="#000" fill-opacity="0.021" filter="url(#b1)"/>
<rect x="433.8" y="98.9" width="9.3" height="1.3" rx="0.7" fill="#000" fill-opacity="0.012" filter="url(#b1)"/>
<rect x="433.2" y="76.8" width="10.2" height="1.6" rx="0.8" fill="#000" fill-opacity="0.022" filter="url(#b1)"/>
<rect x="433.1" y="86.6" width="9.8" height="1.6" rx="0.8" fill="#000" fill-opacity="0.009" filter="url(#b1)"/>
<rect x="433.4" y="108.7" width="10.1" height="1.4" rx="0.7" fill="#000" fill-opacity="0.018" filter="url(#b1)"/>
<rect x="433.1" y="123.7" width="9.6" height="1.4" rx="0.7" fill="#000" fill-opacity="0.01" filter="url(#b1)"/>
<rect x="447.7" y="74.3" width="9.8" height="2.1" rx="1.1" fill="#000" fill-opacity="0.025" filter="url(#b1)"/>
<rect x="448.6" y="79.3" width="9.7" height="1.8" rx="0.9" fill="#000" fill-opacity="0.013" filter="url(#b1)"/>
<rect x="448.3" y="118.6" width="9.4" height="1.2" rx="0.6" fill="#000" fill-opacity="0.013" filter="url(#b1)"/>
<rect x="449.1" y="122.6" width="8.9" height="2.0" rx="1.0" fill="#000" fill-opacity="0.025" filter="url(#b1)"/>
<rect x="448.8" y="114.5" width="9.6" height="1.4" rx="0.7" fill="#000" fill-opacity="0.019" filter="url(#b1)"/>
<rect x="447.9" y="77.1" width="9.5" height="1.9" rx="1.0" fill="#000" fill-opacity="0.014" filter="url(#b1)"/>
<rect x="448.9" y="111.4" width="9.3" height="1.8" rx="0.9" fill="#000" fill-opacity="0.027" filter="url(#b1)"/>
<rect x="448.7" y="96.4" width="9.3" height="1.8" rx="0.9" fill="#000" fill-opacity="0.026" filter="url(#b1)"/>
<rect x="466.0" y="127.2" width="8.9" height="1.5" rx="0.7" fill="#000" fill-opacity="0.014" filter="url(#b1)"/>
<rect x="465.5" y="84.9" width="10.1" height="1.5" rx="0.8" fill="#000" fill-opacity="0.025" filter="url(#b1)"/>
<rect x="464.4" y="122.1" width="10.4" height="1.8" rx="0.9" fill="#000" fill-opacity="0.016" filter="url(#b1)"/>
<rect x="465.7" y="111.2" width="9.7" height="2.0" rx="1.0" fill="#000" fill-opacity="0.023" filter="url(#b1)"/>
<rect x="464.8" y="111.6" width="10.1" height="1.8" rx="0.9" fill="#000" fill-opacity="0.027" filter="url(#b1)"/>
<rect x="465.5" y="88.8" width="9.0" height="2.1" rx="1.1" fill="#000" fill-opacity="0.013" filter="url(#b1)"/>
<rect x="464.2" y="79.6" width="10.4" height="1.5" rx="0.8" fill="#000" fill-opacity="0.01" filter="url(#b1)"/>
<rect x="464.3" y="79.3" width="10.0" height="1.8" rx="0.9" fill="#000" fill-opacity="0.01" filter="url(#b1)"/>
<rect x="480.5" y="111.6" width="9.9" height="1.6" rx="0.8" fill="#000" fill-opacity="0.024" filter="url(#b1)"/>
<rect x="482.0" y="118.4" width="9.0" height="2.1" rx="1.0" fill="#000" fill-opacity="0.026" filter="url(#b1)"/>
<rect x="480.8" y="124.4" width="9.2" height="1.3" rx="0.7" fill="#000" fill-opacity="0.029" filter="url(#b1)"/>
<rect x="481.5" y="73.0" width="9.9" height="2.0" rx="1.0" fill="#000" fill-opacity="0.027" filter="url(#b1)"/>
<rect x="480.9" y="107.7" width="9.1" height="2.0" rx="1.0" fill="#000" fill-opacity="0.015" filter="url(#b1)"/>
<rect x="481.4" y="83.2" width="9.0" height="1.5" rx="0.7" fill="#000" fill-opacity="0.016" filter="url(#b1)"/>
<rect x="481.1" y="87.3" width="9.4" height="2.2" rx="1.1" fill="#000" fill-opacity="0.024" filter="url(#b1)"/>
<rect x="481.7" y="100.4" width="9.0" height="1.6" rx="0.8" fill="#000" fill-opacity="0.027" filter="url(#b1)"/>
<rect x="497.0" y="96.4" width="10.0" height="1.7" rx="0.9" fill="#000" fill-opacity="0.025" filter="url(#b1)"/>
<rect x="496.5" y="83.9" width="10.2" height="1.4" rx="0.7" fill="#000" fill-opacity="0.027" filter="url(#b1)"/>
<rect x="497.3" y="71.5" width="10.5" height="1.2" rx="0.6" fill="#000" fill-opacity="0.013" filter="url(#b1)"/>
<rect x="498.0" y="99.6" width="9.2" height="1.7" rx="0.8" fill="#000" fill-opacity="0.019" filter="url(#b1)"/>
<rect x="496.7" y="91.4" width="10.4" height="1.5" rx="0.7" fill="#000" fill-opacity="0.026" filter="url(#b1)"/>
<rect x="497.6" y="83.5" width="9.1" height="1.8" rx="0.9" fill="#000" fill-opacity="0.024" filter="url(#b1)"/>
<rect x="497.4" y="75.8" width="10.2" height="1.8" rx="0.9" fill="#000" fill-opacity="0.026" filter="url(#b1)"/>
<rect x="496.9" y="92.0" width="10.3" height="1.3" rx="0.6" fill="#000" fill-opacity="0.017" filter="url(#b1)"/>
<rect x="512.7" y="122.5" width="9.3" height="2.1" rx="1.1" fill="#000" fill-opacity="0.01" filter="url(#b1)"/>
<rect x="513.7" y="100.2" width="9.3" height="1.7" rx="0.8" fill="#000" fill-opacity="0.017" filter="url(#b1)"/>
<rect x="513.2" y="102.1" width="9.9" height="1.5" rx="0.8" fill="#000" fill-opacity="0.025" filter="url(#b1)"/>
<rect x="513.3" y="90.0" width="10.0" height="1.9" rx="1.0" fill="#000" fill-opacity="0.012" filter="url(#b1)"/>
<rect x="513.3" y="81.2" width="9.8" height="1.3" rx="0.7" fill="#000" fill-opacity="0.018" filter="url(#b1)"/>
<rect x="512.8" y="98.0" width="9.2" height="1.5" rx="0.8" fill="#000" fill-opacity="0.028" filter="url(#b1)"/>
<rect x="512.7" y="112.1" width="9.2" height="1.4" rx="0.7" fill="#000" fill-opacity="0.027" filter="url(#b1)"/>
<rect x="512.6" y="90.2" width="9.4" height="1.4" rx="0.7" fill="#000" fill-opacity="0.02" filter="url(#b1)"/>
<rect x="528.2" y="127.9" width="10.4" height="1.3" rx="0.7" fill="#000" fill-opacity="0.024" filter="url(#b1)"/>
<rect x="529.4" y="93.5" width="10.1" height="1.6" rx="0.8" fill="#000" fill-opacity="0.03" filter="url(#b1)"/>
<rect x="528.8" y="82.6" width="9.3" height="1.6" rx="0.8" fill="#000" fill-opacity="0.022" filter="url(#b1)"/>
<rect x="529.4" y="73.1" width="10.0" height="1.7" rx="0.9" fill="#000" fill-opacity="0.017" filter="url(#b1)"/>
<rect x="528.6" y="107.9" width="9.9" height="1.6" rx="0.8" fill="#000" fill-opacity="0.019" filter="url(#b1)"/>
<rect x="529.0" y="114.0" width="9.8" height="1.9" rx="1.0" fill="#000" fill-opacity="0.028" filter="url(#b1)"/>
<rect x="529.2" y="95.4" width="10.3" height="2.0" rx="1.0" fill="#000" fill-opacity="0.014" filter="url(#b1)"/>
<rect x="529.3" y="111.8" width="9.9" height="1.7" rx="0.8" fill="#000" fill-opacity="0.027" filter="url(#b1)"/>
<rect x="400.5" y="64.6" width="11.0" height="3.0" rx="1.5" fill="#000" fill-opacity="0.75" filter="url(#b1)"/>
<rect x="400.5" y="89.5" width="11.0" height="3.0" rx="1.5" fill="#000" fill-opacity="0.38" filter="url(#b1)"/>
<rect x="401.0" y="77.8" width="10.0" height="2.0" rx="1.0" fill="#000" fill-opacity="0.15" filter="url(#b1)"/>
<rect x="401.0" y="108.5" width="10.0" height="1.6" rx="0.8" fill="#000" fill-opacity="0.15" filter="url(#b1)"/>
<rect x="416.4" y="65.3" width="11.0" height="3.0" rx="1.5" fill="#000" fill-opacity="0.85" filter="url(#b1)"/>
<rect x="416.4" y="90.1" width="11.0" height="3.0" rx="1.5" fill="#000" fill-opacity="0.45" filter="url(#b1)"/>
<rect x="431.8" y="65.7" width="12.0" height="3.5" rx="1.8" fill="#000" fill-opacity="1" filter="url(#b1)"/>
<rect x="432.3" y="108.8" width="11.0" height="2.4" rx="1.2" fill="#000" fill-opacity="0.6" filter="url(#b1)"/>
<rect x="433.8" y="128.9" width="8.0" height="1.6" rx="0.8" fill="#000" fill-opacity="0.1" filter="url(#b1)"/>
<rect x="448.3" y="56.7" width="10.0" height="2.4" rx="1.2" fill="#000" fill-opacity="0.7" filter="url(#b1)"/>
<rect x="448.3" y="65.7" width="10.0" height="2.2" rx="1.1" fill="#000" fill-opacity="0.35" filter="url(#b1)"/>
<rect x="465.4" y="52.6" width="9.0" height="1.6" rx="0.8" fill="#000" fill-opacity="0.15" filter="url(#b1)"/>
<rect x="464.4" y="65.3" width="11.0" height="3.0" rx="1.5" fill="#000" fill-opacity="0.85" filter="url(#b1)"/>
<rect x="464.9" y="108.3" width="10.0" height="2.0" rx="1.0" fill="#000" fill-opacity="0.22" filter="url(#b1)"/>
<rect x="481.5" y="75.9" width="9.0" height="1.6" rx="0.8" fill="#000" fill-opacity="0.12" filter="url(#b1)"/>
<rect x="496.7" y="57.3" width="11.0" height="3.0" rx="1.5" fill="#000" fill-opacity="0.8" filter="url(#b1)"/>
<rect x="499.2" y="61.4" width="6.0" height="2.0" rx="1.0" fill="#000" fill-opacity="0.5" filter="url(#b1)"/>
<rect x="497.2" y="67.7" width="10.0" height="2.6" rx="1.3" fill="#000" fill-opacity="0.75" filter="url(#b1)"/>
<rect x="497.7" y="109.5" width="9.0" height="1.6" rx="0.8" fill="#000" fill-opacity="0.15" filter="url(#b1)"/>
<rect x="497.7" y="128.9" width="9.0" height="1.6" rx="0.8" fill="#000" fill-opacity="0.2" filter="url(#b1)"/>
<rect x="513.3" y="53.0" width="9.0" height="2.0" rx="1.0" fill="#000" fill-opacity="0.3" filter="url(#b1)"/>
<rect x="512.8" y="68.6" width="10.0" height="2.4" rx="1.2" fill="#000" fill-opacity="0.65" filter="url(#b1)"/>
<rect x="513.3" y="77.1" width="9.0" height="1.6" rx="0.8" fill="#000" fill-opacity="0.2" filter="url(#b1)"/>
<rect x="513.3" y="102.1" width="9.0" height="2.0" rx="1.0" fill="#000" fill-opacity="0.4" filter="url(#b1)"/>
<rect x="512.8" y="110.0" width="10.0" height="2.4" rx="1.2" fill="#000" fill-opacity="0.6" filter="url(#b1)"/>
<rect x="513.3" y="128.9" width="9.0" height="1.6" rx="0.8" fill="#000" fill-opacity="0.25" filter="url(#b1)"/>
<rect x="531.0" y="51.5" width="6.0" height="5.0" rx="2.5" fill="#000" fill-opacity="1" filter="url(#b1)"/>
<rect x="528.5" y="58.3" width="11.0" height="3.4" rx="1.7" fill="#000" fill-opacity="1" filter="url(#b1)"/>
<rect x="545.0" y="56.0" width="9.0" height="2.0" rx="1.0" fill="#000" fill-opacity="0.1" filter="url(#b1)"/>
<text x="409.2" y="182.2" font-size="15.5" text-anchor="start" font-weight="normal" fill="#000" >WGA</text>
<rect x="393.2" y="42.5" width="166.1" height="144.8" fill="none" stroke="#474747" stroke-width="1.2" />
<line x1="392.6" y1="42.5" x2="559.9" y2="42.5" stroke="#1a1a1a" stroke-width="1.5" />
<text x="106.0" y="20.2" font-size="15.5" text-anchor="middle" font-weight="normal" fill="#000" >HC</text>
<line x1="63.5" y1="25.0" x2="138.6" y2="25.0" stroke="#000" stroke-width="1.9" />
<text x="181.0" y="20.2" font-size="15.5" text-anchor="middle" font-weight="normal" fill="#000" >DP</text>
<line x1="143.2" y1="25.0" x2="216.3" y2="25.0" stroke="#000" stroke-width="1.9" />
<line x1="64.3" y1="26.2" x2="64.3" y2="41.0" stroke="#000" stroke-width="1" stroke-dasharray="1.1,1.1" shape-rendering="crispEdges"/>
<line x1="79.2" y1="26.2" x2="79.2" y2="41.0" stroke="#000" stroke-width="1" stroke-dasharray="1.1,1.1" shape-rendering="crispEdges"/>
<line x1="96.0" y1="26.2" x2="96.0" y2="41.0" stroke="#000" stroke-width="1" stroke-dasharray="1.1,1.1" shape-rendering="crispEdges"/>
<line x1="110.2" y1="26.2" x2="110.2" y2="41.0" stroke="#000" stroke-width="1" stroke-dasharray="1.1,1.1" shape-rendering="crispEdges"/>
<line x1="124.3" y1="26.2" x2="124.3" y2="41.0" stroke="#000" stroke-width="1" stroke-dasharray="1.1,1.1" shape-rendering="crispEdges"/>
<line x1="139.4" y1="26.2" x2="139.4" y2="41.0" stroke="#000" stroke-width="1" stroke-dasharray="1.1,1.1" shape-rendering="crispEdges"/>
<line x1="143.4" y1="26.2" x2="143.4" y2="41.0" stroke="#000" stroke-width="1" stroke-dasharray="1.1,1.1" shape-rendering="crispEdges"/>
<line x1="157.6" y1="26.2" x2="157.6" y2="41.0" stroke="#000" stroke-width="1" stroke-dasharray="1.1,1.1" shape-rendering="crispEdges"/>
<line x1="172.5" y1="26.2" x2="172.5" y2="41.0" stroke="#000" stroke-width="1" stroke-dasharray="1.1,1.1" shape-rendering="crispEdges"/>
<line x1="187.3" y1="26.2" x2="187.3" y2="41.0" stroke="#000" stroke-width="1" stroke-dasharray="1.1,1.1" shape-rendering="crispEdges"/>
<line x1="201.8" y1="26.2" x2="201.8" y2="41.0" stroke="#000" stroke-width="1" stroke-dasharray="1.1,1.1" shape-rendering="crispEdges"/>
<line x1="216.2" y1="26.2" x2="216.2" y2="41.0" stroke="#000" stroke-width="1" stroke-dasharray="1.1,1.1" shape-rendering="crispEdges"/>
<text x="73.0" y="40.3" font-size="15" text-anchor="middle" font-weight="normal" fill="#000" >1</text>
<text x="87.3" y="40.3" font-size="15" text-anchor="middle" font-weight="normal" fill="#000" >2</text>
<text x="101.6" y="40.3" font-size="15" text-anchor="middle" font-weight="normal" fill="#000" >3</text>
<text x="115.8" y="40.3" font-size="15" text-anchor="middle" font-weight="normal" fill="#000" >4</text>
<text x="131.0" y="40.3" font-size="15" text-anchor="middle" font-weight="normal" fill="#000" >5</text>
<text x="151.4" y="40.3" font-size="15" text-anchor="middle" font-weight="normal" fill="#000" >1</text>
<text x="165.5" y="40.3" font-size="15" text-anchor="middle" font-weight="normal" fill="#000" >2</text>
<text x="180.3" y="40.3" font-size="15" text-anchor="middle" font-weight="normal" fill="#000" >3</text>
<text x="194.8" y="40.3" font-size="15" text-anchor="middle" font-weight="normal" fill="#000" >4</text>
<text x="209.2" y="40.3" font-size="15" text-anchor="middle" font-weight="normal" fill="#000" >5</text>
<text x="269.5" y="20.2" font-size="15.5" text-anchor="middle" font-weight="normal" fill="#000" >HC</text>
<line x1="230.0" y1="25.0" x2="305.0" y2="25.0" stroke="#000" stroke-width="1.9" />
<text x="344.8" y="20.2" font-size="15.5" text-anchor="middle" font-weight="normal" fill="#000" >DP</text>
<line x1="307.2" y1="25.0" x2="380.2" y2="25.0" stroke="#000" stroke-width="1.9" />
<line x1="230.2" y1="26.2" x2="230.2" y2="41.0" stroke="#000" stroke-width="1" stroke-dasharray="1.1,1.1" shape-rendering="crispEdges"/>
<line x1="244.9" y1="26.2" x2="244.9" y2="41.0" stroke="#000" stroke-width="1" stroke-dasharray="1.1,1.1" shape-rendering="crispEdges"/>
<line x1="262.0" y1="26.2" x2="262.0" y2="41.0" stroke="#000" stroke-width="1" stroke-dasharray="1.1,1.1" shape-rendering="crispEdges"/>
<line x1="276.5" y1="26.2" x2="276.5" y2="41.0" stroke="#000" stroke-width="1" stroke-dasharray="1.1,1.1" shape-rendering="crispEdges"/>
<line x1="289.5" y1="26.2" x2="289.5" y2="41.0" stroke="#000" stroke-width="1" stroke-dasharray="1.1,1.1" shape-rendering="crispEdges"/>
<line x1="305.0" y1="26.2" x2="305.0" y2="41.0" stroke="#000" stroke-width="1" stroke-dasharray="1.1,1.1" shape-rendering="crispEdges"/>
<line x1="307.7" y1="26.2" x2="307.7" y2="41.0" stroke="#000" stroke-width="1" stroke-dasharray="1.1,1.1" shape-rendering="crispEdges"/>
<line x1="321.7" y1="26.2" x2="321.7" y2="41.0" stroke="#000" stroke-width="1" stroke-dasharray="1.1,1.1" shape-rendering="crispEdges"/>
<line x1="336.8" y1="26.2" x2="336.8" y2="41.0" stroke="#000" stroke-width="1" stroke-dasharray="1.1,1.1" shape-rendering="crispEdges"/>
<line x1="351.2" y1="26.2" x2="351.2" y2="41.0" stroke="#000" stroke-width="1" stroke-dasharray="1.1,1.1" shape-rendering="crispEdges"/>
<line x1="365.4" y1="26.2" x2="365.4" y2="41.0" stroke="#000" stroke-width="1" stroke-dasharray="1.1,1.1" shape-rendering="crispEdges"/>
<line x1="380.4" y1="26.2" x2="380.4" y2="41.0" stroke="#000" stroke-width="1" stroke-dasharray="1.1,1.1" shape-rendering="crispEdges"/>
<text x="237.4" y="40.3" font-size="15" text-anchor="middle" font-weight="normal" fill="#000" >1</text>
<text x="254.5" y="40.3" font-size="15" text-anchor="middle" font-weight="normal" fill="#000" >2</text>
<text x="269.0" y="40.3" font-size="15" text-anchor="middle" font-weight="normal" fill="#000" >3</text>
<text x="283.3" y="40.3" font-size="15" text-anchor="middle" font-weight="normal" fill="#000" >4</text>
<text x="297.6" y="40.3" font-size="15" text-anchor="middle" font-weight="normal" fill="#000" >5</text>
<text x="314.5" y="40.3" font-size="15" text-anchor="middle" font-weight="normal" fill="#000" >1</text>
<text x="330.0" y="40.3" font-size="15" text-anchor="middle" font-weight="normal" fill="#000" >2</text>
<text x="344.4" y="40.3" font-size="15" text-anchor="middle" font-weight="normal" fill="#000" >3</text>
<text x="358.9" y="40.3" font-size="15" text-anchor="middle" font-weight="normal" fill="#000" >4</text>
<text x="372.9" y="40.3" font-size="15" text-anchor="middle" font-weight="normal" fill="#000" >5</text>
<text x="442.5" y="20.2" font-size="15.5" text-anchor="middle" font-weight="normal" fill="#000" >HC</text>
<line x1="398.5" y1="25.0" x2="477.4" y2="25.0" stroke="#000" stroke-width="1.9" />
<text x="522.1" y="20.2" font-size="15.5" text-anchor="middle" font-weight="normal" fill="#000" >DP</text>
<line x1="481.3" y1="25.0" x2="556.7" y2="25.0" stroke="#000" stroke-width="1.9" />
<line x1="398.9" y1="26.2" x2="398.9" y2="41.0" stroke="#000" stroke-width="1" stroke-dasharray="1.1,1.1" shape-rendering="crispEdges"/>
<line x1="414.3" y1="26.2" x2="414.3" y2="41.0" stroke="#000" stroke-width="1" stroke-dasharray="1.1,1.1" shape-rendering="crispEdges"/>
<line x1="429.4" y1="26.2" x2="429.4" y2="41.0" stroke="#000" stroke-width="1" stroke-dasharray="1.1,1.1" shape-rendering="crispEdges"/>
<line x1="445.8" y1="26.2" x2="445.8" y2="41.0" stroke="#000" stroke-width="1" stroke-dasharray="1.1,1.1" shape-rendering="crispEdges"/>
<line x1="461.6" y1="26.2" x2="461.6" y2="41.0" stroke="#000" stroke-width="1" stroke-dasharray="1.1,1.1" shape-rendering="crispEdges"/>
<line x1="477.4" y1="26.2" x2="477.4" y2="41.0" stroke="#000" stroke-width="1" stroke-dasharray="1.1,1.1" shape-rendering="crispEdges"/>
<line x1="480.9" y1="26.2" x2="480.9" y2="41.0" stroke="#000" stroke-width="1" stroke-dasharray="1.1,1.1" shape-rendering="crispEdges"/>
<line x1="495.8" y1="26.2" x2="495.8" y2="41.0" stroke="#000" stroke-width="1" stroke-dasharray="1.1,1.1" shape-rendering="crispEdges"/>
<line x1="513.1" y1="26.2" x2="513.1" y2="41.0" stroke="#000" stroke-width="1" stroke-dasharray="1.1,1.1" shape-rendering="crispEdges"/>
<line x1="527.6" y1="26.2" x2="527.6" y2="41.0" stroke="#000" stroke-width="1" stroke-dasharray="1.1,1.1" shape-rendering="crispEdges"/>
<line x1="542.0" y1="26.2" x2="542.0" y2="41.0" stroke="#000" stroke-width="1" stroke-dasharray="1.1,1.1" shape-rendering="crispEdges"/>
<line x1="556.5" y1="26.2" x2="556.5" y2="41.0" stroke="#000" stroke-width="1" stroke-dasharray="1.1,1.1" shape-rendering="crispEdges"/>
<text x="405.8" y="40.3" font-size="15" text-anchor="middle" font-weight="normal" fill="#000" >1</text>
<text x="420.5" y="40.3" font-size="15" text-anchor="middle" font-weight="normal" fill="#000" >2</text>
<text x="437.6" y="40.3" font-size="15" text-anchor="middle" font-weight="normal" fill="#000" >3</text>
<text x="452.8" y="40.3" font-size="15" text-anchor="middle" font-weight="normal" fill="#000" >4</text>
<text x="469.5" y="40.3" font-size="15" text-anchor="middle" font-weight="normal" fill="#000" >5</text>
<text x="488.8" y="40.3" font-size="15" text-anchor="middle" font-weight="normal" fill="#000" >1</text>
<text x="502.9" y="40.3" font-size="15" text-anchor="middle" font-weight="normal" fill="#000" >2</text>
<text x="519.4" y="40.3" font-size="15" text-anchor="middle" font-weight="normal" fill="#000" >3</text>
<text x="534.1" y="40.3" font-size="15" text-anchor="middle" font-weight="normal" fill="#000" >4</text>
<text x="547.9" y="40.3" font-size="15" text-anchor="middle" font-weight="normal" fill="#000" >5</text>
<text x="48.0" y="39.9" font-size="14.5" text-anchor="start" font-weight="normal" fill="#000" >#</text>
<text x="52.6" y="57.2" font-size="15.6" text-anchor="end" font-weight="normal" fill="#000"  textLength="40.3" lengthAdjust="spacingAndGlyphs">(kDa)</text>
<text x="52.3" y="72.6" font-size="15.3" text-anchor="end" font-weight="normal" fill="#000"  textLength="27.6" lengthAdjust="spacingAndGlyphs">250</text>
<line x1="56.5" y1="67.2" x2="63.0" y2="67.2" stroke="#000" stroke-width="1.6" />
<text x="52.3" y="86.1" font-size="15.3" text-anchor="end" font-weight="normal" fill="#000"  textLength="27.6" lengthAdjust="spacingAndGlyphs">150</text>
<line x1="56.5" y1="80.7" x2="63.0" y2="80.7" stroke="#000" stroke-width="1.6" />
<text x="52.3" y="100.1" font-size="15.3" text-anchor="end" font-weight="normal" fill="#000"  textLength="27.6" lengthAdjust="spacingAndGlyphs">100</text>
<line x1="56.5" y1="94.7" x2="63.0" y2="94.7" stroke="#000" stroke-width="1.6" />
<text x="52.3" y="119.1" font-size="15.3" text-anchor="end" font-weight="normal" fill="#000"  textLength="19.2" lengthAdjust="spacingAndGlyphs">75</text>
<line x1="56.5" y1="113.7" x2="63.0" y2="113.7" stroke="#000" stroke-width="1.6" />
<text x="52.3" y="134.0" font-size="15.3" text-anchor="end" font-weight="normal" fill="#000"  textLength="19.2" lengthAdjust="spacingAndGlyphs">50</text>
<line x1="56.5" y1="128.6" x2="63.0" y2="128.6" stroke="#000" stroke-width="1.6" />
<text x="52.3" y="159.8" font-size="15.3" text-anchor="end" font-weight="normal" fill="#000"  textLength="19.2" lengthAdjust="spacingAndGlyphs">37</text>
<line x1="56.5" y1="154.4" x2="63.0" y2="154.4" stroke="#000" stroke-width="1.6" />
<text x="52.3" y="186.6" font-size="15.3" text-anchor="end" font-weight="normal" fill="#000"  textLength="19.2" lengthAdjust="spacingAndGlyphs">25</text>
<line x1="56.5" y1="181.2" x2="63.0" y2="181.2" stroke="#000" stroke-width="1.6" />
<line x1="219.0" y1="67.0" x2="225.0" y2="67.0" stroke="#000" stroke-width="1.6" />
<line x1="219.0" y1="79.0" x2="225.0" y2="79.0" stroke="#000" stroke-width="1.6" />
<line x1="219.0" y1="92.1" x2="225.0" y2="92.1" stroke="#000" stroke-width="1.6" />
<line x1="219.0" y1="107.0" x2="225.0" y2="107.0" stroke="#000" stroke-width="1.6" />
<line x1="219.0" y1="130.4" x2="225.0" y2="130.4" stroke="#000" stroke-width="1.6" />
<line x1="219.0" y1="154.0" x2="225.0" y2="154.0" stroke="#000" stroke-width="1.6" />
<line x1="219.0" y1="180.4" x2="225.0" y2="180.4" stroke="#000" stroke-width="1.6" />
<line x1="386.0" y1="66.6" x2="393.4" y2="66.6" stroke="#000" stroke-width="1.6" />
<line x1="386.0" y1="78.5" x2="393.4" y2="78.5" stroke="#000" stroke-width="1.6" />
<line x1="386.0" y1="93.4" x2="393.4" y2="93.4" stroke="#000" stroke-width="1.6" />
<line x1="386.0" y1="110.9" x2="393.4" y2="110.9" stroke="#000" stroke-width="1.6" />
<line x1="386.0" y1="131.4" x2="393.4" y2="131.4" stroke="#000" stroke-width="1.6" />
<line x1="386.0" y1="151.7" x2="393.4" y2="151.7" stroke="#000" stroke-width="1.6" />
<line x1="386.0" y1="180.1" x2="393.4" y2="180.1" stroke="#000" stroke-width="1.6" />
<text x="606.0" y="30.0" font-size="15.6" text-anchor="start" font-weight="normal" fill="#000" >Band #</text>
<polyline points="560,59.7 576,59.7 601.4,45.1" fill="none" stroke="#000" stroke-width="1.2" stroke-dasharray="3,2"/>
<line x1="560.0" y1="70.3" x2="595.0" y2="70.3" stroke="#000" stroke-width="1.2" stroke-dasharray="3,2"/>
<line x1="560.0" y1="110.5" x2="596.0" y2="110.5" stroke="#000" stroke-width="1.2" stroke-dasharray="3,2"/>
<line x1="560.0" y1="128.7" x2="596.0" y2="128.7" stroke="#000" stroke-width="1.2" stroke-dasharray="3,2"/>
<polyline points="560,134.6 577,134.6 596,152.4" fill="none" stroke="#000" stroke-width="1.2" stroke-dasharray="3,2"/>
<text x="606.5" y="52.5" font-size="15.6" text-anchor="start" font-weight="normal" fill="#000" >1</text>
<text x="606.5" y="77.3" font-size="15.6" text-anchor="start" font-weight="normal" fill="#000" >2 (250kDa)</text>
<text x="606.5" y="119.0" font-size="15.6" text-anchor="start" font-weight="normal" fill="#000" >3</text>
<text x="606.5" y="138.6" font-size="15.6" text-anchor="start" font-weight="normal" fill="#000" >4</text>
<text x="606.5" y="158.3" font-size="15.6" text-anchor="start" font-weight="normal" fill="#000" >5</text>
<text x="-0.4" y="235.8" font-size="23.5" text-anchor="start" font-weight="bold" fill="#000" >B</text>
<line x1="74.1" y1="238.7" x2="74.1" y2="404.3" stroke="#222" stroke-width="1.3" />
<line x1="73.5" y1="404.3" x2="252.6" y2="404.3" stroke="#222" stroke-width="1.3" />
<line x1="71.1" y1="246.4" x2="74.1" y2="246.4" stroke="#222" stroke-width="1.2" />
<line x1="71.1" y1="284.0" x2="74.1" y2="284.0" stroke="#222" stroke-width="1.2" />
<line x1="71.1" y1="321.8" x2="74.1" y2="321.8" stroke="#222" stroke-width="1.2" />
<line x1="71.1" y1="358.8" x2="74.1" y2="358.8" stroke="#222" stroke-width="1.2" />
<line x1="71.1" y1="396.3" x2="74.1" y2="396.3" stroke="#222" stroke-width="1.2" />
<line x1="94.5" y1="404.3" x2="94.5" y2="407.5" stroke="#222" stroke-width="1.2" />
<line x1="128.8" y1="404.3" x2="128.8" y2="407.5" stroke="#222" stroke-width="1.2" />
<line x1="163.0" y1="404.3" x2="163.0" y2="407.5" stroke="#222" stroke-width="1.2" />
<line x1="197.2" y1="404.3" x2="197.2" y2="407.5" stroke="#222" stroke-width="1.2" />
<line x1="232.3" y1="404.3" x2="232.3" y2="407.5" stroke="#222" stroke-width="1.2" />
<text x="83.5" y="245.2" font-size="16" text-anchor="start" font-weight="normal" fill="#000" >ConA</text>
<line x1="254.8" y1="238.7" x2="254.8" y2="404.3" stroke="#222" stroke-width="1.3" />
<line x1="254.2" y1="404.3" x2="433.5" y2="404.3" stroke="#222" stroke-width="1.3" />
<line x1="251.8" y1="246.4" x2="254.8" y2="246.4" stroke="#222" stroke-width="1.2" />
<line x1="251.8" y1="284.0" x2="254.8" y2="284.0" stroke="#222" stroke-width="1.2" />
<line x1="251.8" y1="321.8" x2="254.8" y2="321.8" stroke="#222" stroke-width="1.2" />
<line x1="251.8" y1="358.8" x2="254.8" y2="358.8" stroke="#222" stroke-width="1.2" />
<line x1="251.8" y1="396.3" x2="254.8" y2="396.3" stroke="#222" stroke-width="1.2" />
<line x1="275.0" y1="404.3" x2="275.0" y2="407.5" stroke="#222" stroke-width="1.2" />
<line x1="309.5" y1="404.3" x2="309.5" y2="407.5" stroke="#222" stroke-width="1.2" />
<line x1="344.2" y1="404.3" x2="344.2" y2="407.5" stroke="#222" stroke-width="1.2" />
<line x1="379.3" y1="404.3" x2="379.3" y2="407.5" stroke="#222" stroke-width="1.2" />
<line x1="413.7" y1="404.3" x2="413.7" y2="407.5" stroke="#222" stroke-width="1.2" />
<text x="262.2" y="245.2" font-size="16" text-anchor="start" font-weight="normal" fill="#000" >RCA-1</text>
<line x1="436.1" y1="238.7" x2="436.1" y2="404.3" stroke="#222" stroke-width="1.3" />
<line x1="435.5" y1="404.3" x2="615.5" y2="404.3" stroke="#222" stroke-width="1.3" />
<line x1="433.1" y1="246.4" x2="436.1" y2="246.4" stroke="#222" stroke-width="1.2" />
<line x1="433.1" y1="284.0" x2="436.1" y2="284.0" stroke="#222" stroke-width="1.2" />
<line x1="433.1" y1="321.8" x2="436.1" y2="321.8" stroke="#222" stroke-width="1.2" />
<line x1="433.1" y1="358.8" x2="436.1" y2="358.8" stroke="#222" stroke-width="1.2" />
<line x1="433.1" y1="396.3" x2="436.1" y2="396.3" stroke="#222" stroke-width="1.2" />
<line x1="456.5" y1="404.3" x2="456.5" y2="407.5" stroke="#222" stroke-width="1.2" />
<line x1="491.6" y1="404.3" x2="491.6" y2="407.5" stroke="#222" stroke-width="1.2" />
<line x1="525.7" y1="404.3" x2="525.7" y2="407.5" stroke="#222" stroke-width="1.2" />
<line x1="559.9" y1="404.3" x2="559.9" y2="407.5" stroke="#222" stroke-width="1.2" />
<line x1="594.9" y1="404.3" x2="594.9" y2="407.5" stroke="#222" stroke-width="1.2" />
<text x="444.0" y="245.2" font-size="16" text-anchor="start" font-weight="normal" fill="#000" >WGA</text>
<text x="64.5" y="257.0" font-size="15.2" text-anchor="end" font-weight="normal" fill="#000" >10000</text>
<text x="64.5" y="292.0" font-size="15.2" text-anchor="end" font-weight="normal" fill="#000" >7500</text>
<text x="64.5" y="329.6" font-size="15.2" text-anchor="end" font-weight="normal" fill="#000" >5000</text>
<text x="64.5" y="367.7" font-size="15.2" text-anchor="end" font-weight="normal" fill="#000" >2500</text>
<text x="64.5" y="406.5" font-size="15.2" text-anchor="end" font-weight="normal" fill="#000" >0</text>
<text x="21.3" y="314.5" font-size="15.8" text-anchor="middle" font-weight="normal" fill="#000" transform="rotate(-90 21.3 314.5)">Intensity</text>
<text x="93.6" y="425.5" font-size="16.2" text-anchor="middle" font-weight="normal" fill="#000" >1</text>
<text x="127.9" y="425.5" font-size="16.2" text-anchor="middle" font-weight="normal" fill="#000" >2</text>
<text x="162.1" y="425.5" font-size="16.2" text-anchor="middle" font-weight="normal" fill="#000" >3</text>
<text x="196.3" y="425.5" font-size="16.2" text-anchor="middle" font-weight="normal" fill="#000" >4</text>
<text x="231.4" y="425.5" font-size="16.2" text-anchor="middle" font-weight="normal" fill="#000" >5</text>
<text x="274.1" y="425.5" font-size="16.2" text-anchor="middle" font-weight="normal" fill="#000" >1</text>
<text x="308.6" y="425.5" font-size="16.2" text-anchor="middle" font-weight="normal" fill="#000" >2</text>
<text x="343.3" y="425.5" font-size="16.2" text-anchor="middle" font-weight="normal" fill="#000" >3</text>
<text x="378.4" y="425.5" font-size="16.2" text-anchor="middle" font-weight="normal" fill="#000" >4</text>
<text x="412.8" y="425.5" font-size="16.2" text-anchor="middle" font-weight="normal" fill="#000" >5</text>
<text x="455.6" y="425.5" font-size="16.2" text-anchor="middle" font-weight="normal" fill="#000" >1</text>
<text x="490.7" y="425.5" font-size="16.2" text-anchor="middle" font-weight="normal" fill="#000" >2</text>
<text x="524.8" y="425.5" font-size="16.2" text-anchor="middle" font-weight="normal" fill="#000" >3</text>
<text x="559.0" y="425.5" font-size="16.2" text-anchor="middle" font-weight="normal" fill="#000" >4</text>
<text x="594.0" y="425.5" font-size="16.2" text-anchor="middle" font-weight="normal" fill="#000" >5</text>
<line x1="90.0" y1="430.3" x2="599.0" y2="430.3" stroke="#3a3a3a" stroke-width="1.4" />
<text x="357.6" y="450.6" font-size="15.6" text-anchor="middle" font-weight="normal" fill="#000" >Band #</text>
<line x1="87.4" y1="376.9" x2="87.4" y2="376.9" stroke="#c23b2c" stroke-width="1.6" />
<rect x="81.3" y="370.1" width="12.3" height="6.8" fill="#e2a39d" stroke="#c23b2c" stroke-width="1.5" />
<line x1="81.3" y1="373.0" x2="93.6" y2="373.0" stroke="#c23b2c" stroke-width="2" />
<circle cx="87.2" cy="350.9" r="2.15" fill="#c23b2c" />
<circle cx="87.4" cy="370.5" r="2.15" fill="#c23b2c" />
<circle cx="87.4" cy="376.9" r="2.15" fill="#c23b2c" />
<line x1="101.3" y1="361.4" x2="101.3" y2="361.4" stroke="#1b71bb" stroke-width="1.6" />
<line x1="101.3" y1="389.4" x2="101.3" y2="389.4" stroke="#1b71bb" stroke-width="1.6" />
<rect x="94.5" y="361.4" width="13.7" height="28.0" fill="#83b6de" stroke="#1b71bb" stroke-width="1.5" />
<line x1="94.5" y1="381.0" x2="108.2" y2="381.0" stroke="#1b71bb" stroke-width="2" />
<circle cx="101.3" cy="381.0" r="2.15" fill="#1b71bb" />
<circle cx="101.3" cy="361.4" r="2.15" fill="#1b71bb" />
<circle cx="101.3" cy="361.4" r="2.15" fill="#1b71bb" />
<circle cx="101.3" cy="389.4" r="2.15" fill="#1b71bb" />
<line x1="121.6" y1="386.5" x2="121.6" y2="390.0" stroke="#c23b2c" stroke-width="1.6" />
<rect x="115.5" y="379.2" width="12.2" height="7.3" fill="#e2a39d" stroke="#c23b2c" stroke-width="1.5" />
<line x1="115.5" y1="382.4" x2="127.7" y2="382.4" stroke="#c23b2c" stroke-width="2" />
<circle cx="121.6" cy="367.8" r="2.15" fill="#c23b2c" />
<circle cx="121.6" cy="390.0" r="2.15" fill="#c23b2c" />
<line x1="135.5" y1="369.6" x2="135.5" y2="383.3" stroke="#1b71bb" stroke-width="1.6" />
<line x1="135.5" y1="392.6" x2="135.5" y2="392.6" stroke="#1b71bb" stroke-width="1.6" />
<rect x="129.2" y="383.3" width="12.6" height="9.3" fill="#83b6de" stroke="#1b71bb" stroke-width="1.5" />
<line x1="129.2" y1="390.0" x2="141.8" y2="390.0" stroke="#1b71bb" stroke-width="2" />
<circle cx="135.5" cy="383.3" r="2.15" fill="#1b71bb" />
<circle cx="135.5" cy="369.6" r="2.15" fill="#1b71bb" />
<circle cx="135.5" cy="392.6" r="2.15" fill="#1b71bb" />
<line x1="156.4" y1="274.4" x2="156.4" y2="308.0" stroke="#c23b2c" stroke-width="1.6" />
<line x1="156.4" y1="338.9" x2="156.4" y2="345.3" stroke="#c23b2c" stroke-width="1.6" />
<rect x="149.9" y="308.0" width="12.9" height="30.9" fill="#e2a39d" stroke="#c23b2c" stroke-width="1.5" />
<line x1="149.9" y1="309.5" x2="162.8" y2="309.5" stroke="#c23b2c" stroke-width="2" />
<circle cx="156.3" cy="308.5" r="2.15" fill="#c23b2c" />
<circle cx="156.3" cy="338.0" r="2.15" fill="#c23b2c" />
<circle cx="156.4" cy="274.4" r="2.15" fill="#c23b2c" />
<circle cx="156.4" cy="345.3" r="2.15" fill="#c23b2c" />
<line x1="170.5" y1="371.6" x2="170.5" y2="389.1" stroke="#1b71bb" stroke-width="1.6" />
<rect x="164.2" y="345.6" width="12.6" height="26.0" fill="#83b6de" stroke="#1b71bb" stroke-width="1.5" />
<line x1="164.2" y1="362.8" x2="176.8" y2="362.8" stroke="#1b71bb" stroke-width="2" />
<circle cx="170.4" cy="247.5" r="2.15" fill="#1b71bb" />
<circle cx="170.5" cy="345.6" r="2.15" fill="#1b71bb" />
<circle cx="170.5" cy="371.6" r="2.15" fill="#1b71bb" />
<circle cx="170.5" cy="389.1" r="2.15" fill="#1b71bb" />
<line x1="191.4" y1="373.0" x2="191.4" y2="380.7" stroke="#c23b2c" stroke-width="1.6" />
<line x1="191.4" y1="386.8" x2="191.4" y2="390.0" stroke="#c23b2c" stroke-width="1.6" />
<rect x="185.0" y="380.7" width="12.8" height="6.1" fill="#e2a39d" stroke="#c23b2c" stroke-width="1.5" />
<line x1="185.0" y1="382.7" x2="197.8" y2="382.7" stroke="#c23b2c" stroke-width="2" />
<circle cx="191.4" cy="373.0" r="2.15" fill="#c23b2c" />
<circle cx="191.4" cy="390.0" r="2.15" fill="#c23b2c" />
<line x1="204.9" y1="373.6" x2="204.9" y2="380.7" stroke="#1b71bb" stroke-width="1.6" />
<line x1="204.9" y1="394.4" x2="204.9" y2="394.4" stroke="#1b71bb" stroke-width="1.6" />
<rect x="198.7" y="380.7" width="12.5" height="13.7" fill="#83b6de" stroke="#1b71bb" stroke-width="1.5" />
<line x1="198.7" y1="391.5" x2="211.2" y2="391.5" stroke="#1b71bb" stroke-width="2" />
<circle cx="204.9" cy="373.6" r="2.15" fill="#1b71bb" />
<circle cx="204.9" cy="394.4" r="2.15" fill="#1b71bb" />
<line x1="225.4" y1="366.4" x2="225.4" y2="378.9" stroke="#c23b2c" stroke-width="1.6" />
<line x1="225.4" y1="390.6" x2="225.4" y2="390.6" stroke="#c23b2c" stroke-width="1.6" />
<rect x="219.1" y="378.9" width="12.6" height="11.7" fill="#e2a39d" stroke="#c23b2c" stroke-width="1.5" />
<line x1="219.1" y1="389.1" x2="231.7" y2="389.1" stroke="#c23b2c" stroke-width="2" />
<circle cx="225.4" cy="378.9" r="2.15" fill="#c23b2c" />
<circle cx="225.4" cy="366.4" r="2.15" fill="#c23b2c" />
<circle cx="225.4" cy="390.6" r="2.15" fill="#c23b2c" />
<line x1="239.4" y1="358.5" x2="239.4" y2="377.4" stroke="#1b71bb" stroke-width="1.6" />
<line x1="239.4" y1="395.8" x2="239.4" y2="395.8" stroke="#1b71bb" stroke-width="1.6" />
<rect x="232.8" y="377.4" width="13.2" height="18.4" fill="#83b6de" stroke="#1b71bb" stroke-width="1.5" />
<line x1="232.8" y1="395.0" x2="246.0" y2="395.0" stroke="#1b71bb" stroke-width="2" />
<circle cx="239.4" cy="377.4" r="2.15" fill="#1b71bb" />
<circle cx="239.4" cy="358.5" r="2.15" fill="#1b71bb" />
<circle cx="239.4" cy="395.8" r="2.15" fill="#1b71bb" />
<line x1="267.9" y1="392.9" x2="267.9" y2="392.9" stroke="#c23b2c" stroke-width="1.6" />
<rect x="261.3" y="389.1" width="13.2" height="3.8" fill="#e2a39d" stroke="#c23b2c" stroke-width="1.5" />
<line x1="261.3" y1="390.5" x2="274.5" y2="390.5" stroke="#c23b2c" stroke-width="2" />
<circle cx="268.3" cy="377.4" r="2.15" fill="#c23b2c" />
<circle cx="267.9" cy="392.9" r="2.15" fill="#c23b2c" />
<rect x="275.6" y="392.0" width="12.6" height="3.8" fill="#83b6de" stroke="#1b71bb" stroke-width="1.5" />
<line x1="275.6" y1="394.0" x2="288.2" y2="394.0" stroke="#1b71bb" stroke-width="2" />
<circle cx="282.3" cy="382.7" r="2.15" fill="#1b71bb" />
<circle cx="282.0" cy="395.5" r="2.15" fill="#1b71bb" />
<rect x="296.4" y="364.3" width="12.5" height="9.0" fill="#e2a39d" stroke="#c23b2c" stroke-width="1.5" />
<line x1="296.4" y1="368.0" x2="308.9" y2="368.0" stroke="#c23b2c" stroke-width="2" />
<circle cx="302.8" cy="336.8" r="2.15" fill="#c23b2c" />
<circle cx="302.6" cy="392.0" r="2.15" fill="#c23b2c" />
<circle cx="302.6" cy="364.3" r="2.15" fill="#c23b2c" />
<circle cx="302.6" cy="373.3" r="2.15" fill="#c23b2c" />
<line x1="316.3" y1="364.6" x2="316.3" y2="379.2" stroke="#1b71bb" stroke-width="1.6" />
<line x1="316.3" y1="393.8" x2="316.3" y2="393.8" stroke="#1b71bb" stroke-width="1.6" />
<rect x="310.0" y="379.2" width="12.6" height="14.6" fill="#83b6de" stroke="#1b71bb" stroke-width="1.5" />
<line x1="310.0" y1="390.0" x2="322.6" y2="390.0" stroke="#1b71bb" stroke-width="2" />
<circle cx="316.3" cy="379.2" r="2.15" fill="#1b71bb" />
<circle cx="316.3" cy="364.6" r="2.15" fill="#1b71bb" />
<circle cx="316.3" cy="393.8" r="2.15" fill="#1b71bb" />
<line x1="337.7" y1="306.2" x2="337.7" y2="327.8" stroke="#c23b2c" stroke-width="1.6" />
<line x1="337.7" y1="350.0" x2="337.7" y2="350.0" stroke="#c23b2c" stroke-width="1.6" />
<rect x="331.4" y="327.8" width="12.6" height="22.2" fill="#e2a39d" stroke="#c23b2c" stroke-width="1.5" />
<line x1="331.4" y1="348.2" x2="344.0" y2="348.2" stroke="#c23b2c" stroke-width="2" />
<circle cx="339.3" cy="396.7" r="2.15" fill="#c23b2c" />
<circle cx="337.7" cy="327.8" r="2.15" fill="#c23b2c" />
<circle cx="337.7" cy="306.2" r="2.15" fill="#c23b2c" />
<circle cx="337.7" cy="350.0" r="2.15" fill="#c23b2c" />
<rect x="345.1" y="363.1" width="12.6" height="21.9" fill="#83b6de" stroke="#1b71bb" stroke-width="1.5" />
<line x1="345.1" y1="368.0" x2="357.7" y2="368.0" stroke="#1b71bb" stroke-width="2" />
<circle cx="351.5" cy="324.3" r="2.15" fill="#1b71bb" />
<circle cx="351.4" cy="363.1" r="2.15" fill="#1b71bb" />
<circle cx="351.4" cy="385.0" r="2.15" fill="#1b71bb" />
<line x1="372.4" y1="351.1" x2="372.4" y2="359.9" stroke="#c23b2c" stroke-width="1.6" />
<line x1="372.4" y1="380.3" x2="372.4" y2="384.0" stroke="#c23b2c" stroke-width="1.6" />
<rect x="366.1" y="359.9" width="12.6" height="20.4" fill="#e2a39d" stroke="#c23b2c" stroke-width="1.5" />
<line x1="366.1" y1="368.0" x2="378.7" y2="368.0" stroke="#c23b2c" stroke-width="2" />
<circle cx="372.4" cy="359.9" r="2.15" fill="#c23b2c" />
<circle cx="372.4" cy="351.1" r="2.15" fill="#c23b2c" />
<circle cx="372.4" cy="384.0" r="2.15" fill="#c23b2c" />
<line x1="386.0" y1="370.4" x2="386.0" y2="376.2" stroke="#1b71bb" stroke-width="1.6" />
<line x1="386.0" y1="386.2" x2="386.0" y2="394.9" stroke="#1b71bb" stroke-width="1.6" />
<rect x="379.6" y="376.2" width="12.8" height="10.0" fill="#83b6de" stroke="#1b71bb" stroke-width="1.5" />
<line x1="379.6" y1="385.0" x2="392.4" y2="385.0" stroke="#1b71bb" stroke-width="2" />
<circle cx="386.0" cy="376.2" r="2.15" fill="#1b71bb" />
<circle cx="386.0" cy="370.4" r="2.15" fill="#1b71bb" />
<circle cx="386.0" cy="394.9" r="2.15" fill="#1b71bb" />
<line x1="406.6" y1="354.3" x2="406.6" y2="358.7" stroke="#c23b2c" stroke-width="1.6" />
<line x1="406.6" y1="379.7" x2="406.6" y2="385.0" stroke="#c23b2c" stroke-width="1.6" />
<rect x="400.0" y="358.7" width="13.1" height="21.0" fill="#e2a39d" stroke="#c23b2c" stroke-width="1.5" />
<line x1="400.0" y1="363.7" x2="413.1" y2="363.7" stroke="#c23b2c" stroke-width="2" />
<circle cx="406.5" cy="358.7" r="2.15" fill="#c23b2c" />
<circle cx="406.6" cy="354.3" r="2.15" fill="#c23b2c" />
<circle cx="406.6" cy="385.0" r="2.15" fill="#c23b2c" />
<line x1="420.1" y1="375.4" x2="420.1" y2="377.4" stroke="#1b71bb" stroke-width="1.6" />
<line x1="420.1" y1="390.3" x2="420.1" y2="392.9" stroke="#1b71bb" stroke-width="1.6" />
<rect x="414.0" y="377.4" width="12.3" height="12.9" fill="#83b6de" stroke="#1b71bb" stroke-width="1.5" />
<line x1="414.0" y1="388.5" x2="426.3" y2="388.5" stroke="#1b71bb" stroke-width="2" />
<circle cx="420.2" cy="377.4" r="2.15" fill="#1b71bb" />
<circle cx="420.1" cy="375.4" r="2.15" fill="#1b71bb" />
<circle cx="420.1" cy="392.9" r="2.15" fill="#1b71bb" />
<line x1="449.7" y1="359.3" x2="449.7" y2="370.1" stroke="#c23b2c" stroke-width="1.6" />
<rect x="443.4" y="343.2" width="12.6" height="16.1" fill="#e2a39d" stroke="#c23b2c" stroke-width="1.5" />
<line x1="443.4" y1="345.3" x2="456.0" y2="345.3" stroke="#c23b2c" stroke-width="2" />
<circle cx="449.2" cy="319.9" r="2.15" fill="#c23b2c" />
<circle cx="449.2" cy="321.5" r="2.15" fill="#c23b2c" />
<circle cx="449.7" cy="359.3" r="2.15" fill="#c23b2c" />
<circle cx="449.7" cy="370.1" r="2.15" fill="#c23b2c" />
<line x1="463.4" y1="279.9" x2="463.4" y2="321.4" stroke="#1b71bb" stroke-width="1.6" />
<line x1="463.4" y1="375.4" x2="463.4" y2="379.2" stroke="#1b71bb" stroke-width="1.6" />
<rect x="457.1" y="321.4" width="12.6" height="54.0" fill="#83b6de" stroke="#1b71bb" stroke-width="1.5" />
<line x1="457.1" y1="356.4" x2="469.7" y2="356.4" stroke="#1b71bb" stroke-width="2" />
<circle cx="463.4" cy="321.4" r="2.15" fill="#1b71bb" />
<circle cx="463.4" cy="375.4" r="2.15" fill="#1b71bb" />
<circle cx="463.4" cy="279.9" r="2.15" fill="#1b71bb" />
<circle cx="463.4" cy="379.2" r="2.15" fill="#1b71bb" />
<line x1="484.4" y1="272.3" x2="484.4" y2="292.7" stroke="#c23b2c" stroke-width="1.6" />
<line x1="484.4" y1="313.2" x2="484.4" y2="336.0" stroke="#c23b2c" stroke-width="1.6" />
<rect x="478.1" y="292.7" width="12.6" height="20.5" fill="#e2a39d" stroke="#c23b2c" stroke-width="1.5" />
<line x1="478.1" y1="301.5" x2="490.7" y2="301.5" stroke="#c23b2c" stroke-width="2" />
<circle cx="484.4" cy="292.7" r="2.15" fill="#c23b2c" />
<circle cx="484.4" cy="313.2" r="2.15" fill="#c23b2c" />
<circle cx="484.4" cy="272.3" r="2.15" fill="#c23b2c" />
<circle cx="484.4" cy="336.0" r="2.15" fill="#c23b2c" />
<line x1="498.3" y1="330.7" x2="498.3" y2="339.5" stroke="#1b71bb" stroke-width="1.6" />
<line x1="498.3" y1="364.6" x2="498.3" y2="385.0" stroke="#1b71bb" stroke-width="1.6" />
<rect x="492.2" y="339.5" width="12.2" height="25.1" fill="#83b6de" stroke="#1b71bb" stroke-width="1.5" />
<line x1="492.2" y1="350.0" x2="504.4" y2="350.0" stroke="#1b71bb" stroke-width="2" />
<circle cx="498.3" cy="339.5" r="2.15" fill="#1b71bb" />
<circle cx="498.3" cy="364.6" r="2.15" fill="#1b71bb" />
<circle cx="498.3" cy="330.7" r="2.15" fill="#1b71bb" />
<circle cx="498.3" cy="385.0" r="2.15" fill="#1b71bb" />
<line x1="519.5" y1="329.5" x2="519.5" y2="341.2" stroke="#c23b2c" stroke-width="1.6" />
<line x1="519.5" y1="372.4" x2="519.5" y2="377.4" stroke="#c23b2c" stroke-width="1.6" />
<rect x="513.2" y="341.2" width="12.5" height="31.2" fill="#e2a39d" stroke="#c23b2c" stroke-width="1.5" />
<line x1="513.2" y1="369.5" x2="525.7" y2="369.5" stroke="#c23b2c" stroke-width="2" />
<circle cx="519.4" cy="341.2" r="2.15" fill="#c23b2c" />
<circle cx="519.5" cy="329.5" r="2.15" fill="#c23b2c" />
<circle cx="519.5" cy="377.4" r="2.15" fill="#c23b2c" />
<line x1="532.6" y1="381.2" x2="532.6" y2="385.0" stroke="#1b71bb" stroke-width="1.6" />
<rect x="526.3" y="368.1" width="12.6" height="13.1" fill="#83b6de" stroke="#1b71bb" stroke-width="1.5" />
<line x1="526.3" y1="376.8" x2="538.9" y2="376.8" stroke="#1b71bb" stroke-width="2" />
<circle cx="532.6" cy="368.1" r="2.15" fill="#1b71bb" />
<circle cx="532.6" cy="385.0" r="2.15" fill="#1b71bb" />
<line x1="553.0" y1="365.1" x2="553.0" y2="368.1" stroke="#c23b2c" stroke-width="1.6" />
<line x1="553.0" y1="387.0" x2="553.0" y2="392.9" stroke="#c23b2c" stroke-width="1.6" />
<rect x="546.8" y="368.1" width="12.5" height="18.9" fill="#e2a39d" stroke="#c23b2c" stroke-width="1.5" />
<line x1="546.8" y1="381.2" x2="559.3" y2="381.2" stroke="#c23b2c" stroke-width="2" />
<circle cx="553.0" cy="368.1" r="2.15" fill="#c23b2c" />
<circle cx="553.0" cy="365.1" r="2.15" fill="#c23b2c" />
<circle cx="553.0" cy="392.9" r="2.15" fill="#c23b2c" />
<line x1="567.0" y1="390.0" x2="567.0" y2="394.3" stroke="#1b71bb" stroke-width="1.6" />
<rect x="560.8" y="384.1" width="12.5" height="5.9" fill="#83b6de" stroke="#1b71bb" stroke-width="1.5" />
<line x1="560.8" y1="387.0" x2="573.3" y2="387.0" stroke="#1b71bb" stroke-width="2" />
<circle cx="567.0" cy="384.1" r="2.15" fill="#1b71bb" />
<circle cx="567.0" cy="394.3" r="2.15" fill="#1b71bb" />
<rect x="581.2" y="383.2" width="13.1" height="8.8" fill="#e2a39d" stroke="#c23b2c" stroke-width="1.5" />
<line x1="581.2" y1="387.0" x2="594.3" y2="387.0" stroke="#c23b2c" stroke-width="2" />
<circle cx="587.7" cy="383.2" r="2.15" fill="#c23b2c" />
<rect x="595.2" y="387.9" width="12.9" height="3.5" fill="#83b6de" stroke="#1b71bb" stroke-width="1.5" />
<line x1="595.2" y1="389.5" x2="608.1" y2="389.5" stroke="#1b71bb" stroke-width="2" />
<circle cx="601.6" cy="382.7" r="2.15" fill="#1b71bb" />
<circle cx="601.6" cy="391.4" r="2.15" fill="#1b71bb" />
<text x="491.5" y="269.5" font-size="14" text-anchor="middle" font-weight="normal" fill="#000" >**</text>
<line x1="484.8" y1="266.2" x2="498.8" y2="266.2" stroke="#000" stroke-width="1" />
<line x1="574.0" y1="250.1" x2="574.0" y2="264.0" stroke="#c23b2c" stroke-width="1.5" />
<rect x="564.4" y="252.1" width="19.2" height="9.6" fill="#e2a39d" stroke="#c23b2c" stroke-width="1.5" />
<line x1="564.4" y1="257.2" x2="583.6" y2="257.2" stroke="#c23b2c" stroke-width="1.5" />
<circle cx="574.0" cy="257.2" r="2.2" fill="#c23b2c" />
<text x="593.2" y="267.2" font-size="16" text-anchor="start" font-weight="normal" fill="#000" >HC</text>
<line x1="574.0" y1="272.7" x2="574.0" y2="286.6" stroke="#1b71bb" stroke-width="1.5" />
<rect x="564.4" y="274.7" width="19.2" height="9.6" fill="#83b6de" stroke="#1b71bb" stroke-width="1.5" />
<line x1="564.4" y1="279.8" x2="583.6" y2="279.8" stroke="#1b71bb" stroke-width="1.5" />
<circle cx="574.0" cy="279.8" r="2.2" fill="#1b71bb" />
<text x="593.2" y="289.8" font-size="16" text-anchor="start" font-weight="normal" fill="#000" >DP</text>
<text x="1.3" y="467.4" font-size="23.5" text-anchor="start" font-weight="bold" fill="#000" >C</text>
<line x1="79.6" y1="475.3" x2="79.6" y2="617.0" stroke="#333" stroke-width="1.3" />
<line x1="79.0" y1="616.6" x2="186.9" y2="616.6" stroke="#333" stroke-width="1.3" />
<line x1="77.5" y1="481.5" x2="79.6" y2="481.5" stroke="#333" stroke-width="1.2" />
<text x="74.4" y="485.4" font-size="12" text-anchor="end" font-weight="normal" fill="#222" >15</text>
<line x1="77.5" y1="524.6" x2="79.6" y2="524.6" stroke="#333" stroke-width="1.2" />
<text x="74.4" y="528.5" font-size="12" text-anchor="end" font-weight="normal" fill="#222" >10</text>
<line x1="77.5" y1="567.8" x2="79.6" y2="567.8" stroke="#333" stroke-width="1.2" />
<text x="74.4" y="571.7" font-size="12" text-anchor="end" font-weight="normal" fill="#222" >5</text>
<line x1="77.5" y1="610.9" x2="79.6" y2="610.9" stroke="#333" stroke-width="1.2" />
<text x="74.4" y="614.8" font-size="12" text-anchor="end" font-weight="normal" fill="#222" >0</text>
<line x1="109.5" y1="617.0" x2="109.5" y2="620.0" stroke="#333" stroke-width="1.2" />
<line x1="158.2" y1="617.0" x2="158.2" y2="620.0" stroke="#333" stroke-width="1.2" />
<text x="109.5" y="632.0" font-size="13" text-anchor="middle" font-weight="normal" fill="#000" >HC</text>
<text x="158.2" y="632.0" font-size="13" text-anchor="middle" font-weight="normal" fill="#000" >MDD</text>
<text x="0" y="0" font-size="13.3" text-anchor="middle" textLength="108" lengthAdjust="spacingAndGlyphs" transform="translate(52.0 545.8) rotate(-90)">WGA Intensity&#160;&#160;(10<tspan font-size="9" dy="-5.5">3</tspan><tspan dy="5.5">)</tspan></text>
<line x1="109.5" y1="520.1" x2="109.5" y2="550.3" stroke="#e41a1c" stroke-width="1.3" />
<line x1="109.5" y1="588.3" x2="109.5" y2="601.8" stroke="#e41a1c" stroke-width="1.3" />
<rect x="92.3" y="550.3" width="34.3" height="38.0" fill="#f9b5b5" stroke="#e41a1c" stroke-width="1.3" />
<line x1="92.3" y1="569.0" x2="126.6" y2="569.0" stroke="#e41a1c" stroke-width="1.8" />
<circle cx="118.1" cy="492.5" r="2.1" fill="#e41a1c" />
<circle cx="116.0" cy="519.2" r="2.1" fill="#e41a1c" />
<circle cx="104.3" cy="532.9" r="2.1" fill="#e41a1c" />
<circle cx="110.2" cy="539.1" r="2.1" fill="#e41a1c" />
<circle cx="113.0" cy="547.7" r="2.1" fill="#e41a1c" />
<circle cx="108.1" cy="551.2" r="2.1" fill="#e41a1c" />
<circle cx="112.0" cy="555.8" r="2.1" fill="#e41a1c" />
<circle cx="105.1" cy="559.1" r="2.1" fill="#e41a1c" />
<circle cx="116.9" cy="562.3" r="2.1" fill="#e41a1c" />
<circle cx="112.2" cy="568.4" r="2.1" fill="#e41a1c" />
<circle cx="101.1" cy="575.8" r="2.1" fill="#e41a1c" />
<circle cx="108.1" cy="579.8" r="2.1" fill="#e41a1c" />
<circle cx="117.3" cy="582.8" r="2.1" fill="#e41a1c" />
<circle cx="117.8" cy="583.8" r="2.1" fill="#e41a1c" />
<circle cx="99.9" cy="598.8" r="2.1" fill="#e41a1c" />
<circle cx="99.3" cy="600.9" r="2.1" fill="#e41a1c" />
<circle cx="112.5" cy="600.0" r="2.1" fill="#e41a1c" />
<circle cx="115.1" cy="599.7" r="2.1" fill="#e41a1c" />
<circle cx="111.6" cy="601.8" r="2.1" fill="#e41a1c" />
<rect x="141.2" y="596.9" width="34.6" height="13.7" fill="#b8d0e8" stroke="#377eb8" stroke-width="1.3" />
<line x1="141.2" y1="608.8" x2="175.8" y2="608.8" stroke="#377eb8" stroke-width="1.8" />
<polygon points="155.9,553.1 153.3,557.6 158.5,557.6" fill="#377eb8"/>
<polygon points="162.2,559.0 159.6,563.5 164.8,563.5" fill="#377eb8"/>
<polygon points="150.3,568.9 147.7,573.4 152.9,573.4" fill="#377eb8"/>
<polygon points="163.5,574.2 160.9,578.7 166.1,578.7" fill="#377eb8"/>
<polygon points="153.8,593.5 151.2,598.0 156.4,598.0" fill="#377eb8"/>
<polygon points="165.6,591.7 163.0,596.2 168.2,596.2" fill="#377eb8"/>
<polygon points="166.5,596.5 163.9,601.0 169.1,601.0" fill="#377eb8"/>
<polygon points="152.1,599.1 149.5,603.6 154.7,603.6" fill="#377eb8"/>
<polygon points="158.2,602.6 155.6,607.1 160.8,607.1" fill="#377eb8"/>
<polygon points="150.3,606.1 147.7,610.6 152.9,610.6" fill="#377eb8"/>
<polygon points="155.6,606.5 153.0,611.0 158.2,611.0" fill="#377eb8"/>
<polygon points="166.1,607.0 163.5,611.5 168.7,611.5" fill="#377eb8"/>
<polygon points="158.5,606.8 155.9,611.3 161.1,611.3" fill="#377eb8"/>
<polygon points="147.0,606.8 144.4,611.3 149.6,611.3" fill="#377eb8"/>
<polygon points="161.0,603.3 158.4,607.8 163.6,607.8" fill="#377eb8"/>
<polygon points="152.5,601.3 149.9,605.8 155.1,605.8" fill="#377eb8"/>
<polygon points="154.0,603.8 151.4,608.3 156.6,608.3" fill="#377eb8"/>
<polygon points="156.5,604.8 153.9,609.3 159.1,609.3" fill="#377eb8"/>
<polygon points="158.8,600.1 156.2,604.6 161.4,604.6" fill="#377eb8"/>
<polygon points="162.5,606.6 159.9,611.1 165.1,611.1" fill="#377eb8"/>
<polygon points="149.0,605.8 146.4,610.3 151.6,610.3" fill="#377eb8"/>
<text x="157.5" y="523.5" font-size="12" text-anchor="middle" font-weight="normal" fill="#000" >***</text>
<rect x="265.8" y="476.9" width="149.2" height="133.7" fill="#fff" stroke="none" stroke-width="1" />
<line x1="289.3" y1="476.9" x2="289.3" y2="610.6" stroke="#eeeeee" stroke-width="1.2" />
<line x1="265.8" y1="589.6" x2="415.0" y2="589.6" stroke="#eeeeee" stroke-width="1.2" />
<line x1="323.2" y1="476.9" x2="323.2" y2="610.6" stroke="#eeeeee" stroke-width="1.2" />
<line x1="265.8" y1="558.9" x2="415.0" y2="558.9" stroke="#eeeeee" stroke-width="1.2" />
<line x1="357.1" y1="476.9" x2="357.1" y2="610.6" stroke="#eeeeee" stroke-width="1.2" />
<line x1="265.8" y1="528.3" x2="415.0" y2="528.3" stroke="#eeeeee" stroke-width="1.2" />
<line x1="391.0" y1="476.9" x2="391.0" y2="610.6" stroke="#eeeeee" stroke-width="1.2" />
<line x1="265.8" y1="497.6" x2="415.0" y2="497.6" stroke="#eeeeee" stroke-width="1.2" />
<line x1="272.4" y1="476.9" x2="272.4" y2="610.6" stroke="#ebebeb" stroke-width="1.3" />
<line x1="265.8" y1="604.9" x2="415.0" y2="604.9" stroke="#ebebeb" stroke-width="1.3" />
<line x1="306.3" y1="476.9" x2="306.3" y2="610.6" stroke="#ebebeb" stroke-width="1.3" />
<line x1="265.8" y1="574.2" x2="415.0" y2="574.2" stroke="#ebebeb" stroke-width="1.3" />
<line x1="340.1" y1="476.9" x2="340.1" y2="610.6" stroke="#ebebeb" stroke-width="1.3" />
<line x1="265.8" y1="543.6" x2="415.0" y2="543.6" stroke="#ebebeb" stroke-width="1.3" />
<line x1="374.0" y1="476.9" x2="374.0" y2="610.6" stroke="#ebebeb" stroke-width="1.3" />
<line x1="265.8" y1="513.0" x2="415.0" y2="513.0" stroke="#ebebeb" stroke-width="1.3" />
<line x1="407.9" y1="476.9" x2="407.9" y2="610.6" stroke="#ebebeb" stroke-width="1.3" />
<line x1="265.8" y1="482.3" x2="415.0" y2="482.3" stroke="#ebebeb" stroke-width="1.3" />
<line x1="265.8" y1="610.6" x2="415.0" y2="476.9" stroke="#8f8f8f" stroke-width="1.25"/>
<polyline points="272.4,604.9 272.4,523.1 292.7,523.1 292.7,517.4 306.3,517.4 306.3,505.6 326.6,505.6 326.6,499.8 333.4,499.8 333.4,493.9 346.9,493.9 346.9,488.2 360.5,488.2 360.5,482.3 407.9,482.3" fill="none" stroke="#8b0000" stroke-width="2.2" stroke-linejoin="miter"/>
<rect x="265.8" y="476.9" width="149.2" height="133.7" fill="none" stroke="#333" stroke-width="1.4" />
<line x1="262.2" y1="604.9" x2="265.8" y2="604.9" stroke="#333" stroke-width="1.3" />
<text x="259.5" y="609.1" font-size="12" text-anchor="end" font-weight="normal" fill="#222" >0.00</text>
<line x1="272.4" y1="610.6" x2="272.4" y2="614.4" stroke="#333" stroke-width="1.3" />
<text x="272.4" y="625.8" font-size="12" text-anchor="middle" font-weight="normal" fill="#222" >0.00</text>
<line x1="262.2" y1="574.2" x2="265.8" y2="574.2" stroke="#333" stroke-width="1.3" />
<text x="259.5" y="578.5" font-size="12" text-anchor="end" font-weight="normal" fill="#222" >0.25</text>
<line x1="306.3" y1="610.6" x2="306.3" y2="614.4" stroke="#333" stroke-width="1.3" />
<text x="306.3" y="625.8" font-size="12" text-anchor="middle" font-weight="normal" fill="#222" >0.25</text>
<line x1="262.2" y1="543.6" x2="265.8" y2="543.6" stroke="#333" stroke-width="1.3" />
<text x="259.5" y="547.8" font-size="12" text-anchor="end" font-weight="normal" fill="#222" >0.50</text>
<line x1="340.1" y1="610.6" x2="340.1" y2="614.4" stroke="#333" stroke-width="1.3" />
<text x="340.1" y="625.8" font-size="12" text-anchor="middle" font-weight="normal" fill="#222" >0.50</text>
<line x1="262.2" y1="513.0" x2="265.8" y2="513.0" stroke="#333" stroke-width="1.3" />
<text x="259.5" y="517.2" font-size="12" text-anchor="end" font-weight="normal" fill="#222" >0.75</text>
<line x1="374.0" y1="610.6" x2="374.0" y2="614.4" stroke="#333" stroke-width="1.3" />
<text x="374.0" y="625.8" font-size="12" text-anchor="middle" font-weight="normal" fill="#222" >0.75</text>
<line x1="262.2" y1="482.3" x2="265.8" y2="482.3" stroke="#333" stroke-width="1.3" />
<text x="259.5" y="486.5" font-size="12" text-anchor="end" font-weight="normal" fill="#222" >1.00</text>
<line x1="407.9" y1="610.6" x2="407.9" y2="614.4" stroke="#333" stroke-width="1.3" />
<text x="407.9" y="625.8" font-size="12" text-anchor="middle" font-weight="normal" fill="#222" >1.00</text>
<text x="309.9" y="590.8" font-size="10.6" text-anchor="start" font-weight="normal" fill="#111" >AUC = 0.87</text>
<text x="309.9" y="603.0" font-size="10.6" text-anchor="start" font-weight="normal" fill="#111" >(95% CI: 0.76 - 0.97)</text>
<text x="207.0" y="468.3" font-size="23.5" text-anchor="start" font-weight="bold" fill="#000" >D</text>
<text x="0" y="0" font-size="15" text-anchor="middle" transform="translate(229.8 543.3) rotate(-90)">sensitivity</text>
<text x="343.1" y="641.0" font-size="15" text-anchor="middle" font-weight="normal" fill="#000" >1-specificity</text>
<rect x="494.6" y="680.5" width="149.2" height="135.0" fill="#fff" stroke="none" stroke-width="1" />
<line x1="517.9" y1="680.5" x2="517.9" y2="815.5" stroke="#eeeeee" stroke-width="1.2" />
<line x1="494.6" y1="794.1" x2="643.8" y2="794.1" stroke="#eeeeee" stroke-width="1.2" />
<line x1="551.8" y1="680.5" x2="551.8" y2="815.5" stroke="#eeeeee" stroke-width="1.2" />
<line x1="494.6" y1="763.2" x2="643.8" y2="763.2" stroke="#eeeeee" stroke-width="1.2" />
<line x1="585.7" y1="680.5" x2="585.7" y2="815.5" stroke="#eeeeee" stroke-width="1.2" />
<line x1="494.6" y1="732.3" x2="643.8" y2="732.3" stroke="#eeeeee" stroke-width="1.2" />
<line x1="619.6" y1="680.5" x2="619.6" y2="815.5" stroke="#eeeeee" stroke-width="1.2" />
<line x1="494.6" y1="701.4" x2="643.8" y2="701.4" stroke="#eeeeee" stroke-width="1.2" />
<line x1="501.0" y1="680.5" x2="501.0" y2="815.5" stroke="#ebebeb" stroke-width="1.3" />
<line x1="494.6" y1="809.5" x2="643.8" y2="809.5" stroke="#ebebeb" stroke-width="1.3" />
<line x1="534.9" y1="680.5" x2="534.9" y2="815.5" stroke="#ebebeb" stroke-width="1.3" />
<line x1="494.6" y1="778.6" x2="643.8" y2="778.6" stroke="#ebebeb" stroke-width="1.3" />
<line x1="568.8" y1="680.5" x2="568.8" y2="815.5" stroke="#ebebeb" stroke-width="1.3" />
<line x1="494.6" y1="747.8" x2="643.8" y2="747.8" stroke="#ebebeb" stroke-width="1.3" />
<line x1="602.6" y1="680.5" x2="602.6" y2="815.5" stroke="#ebebeb" stroke-width="1.3" />
<line x1="494.6" y1="716.9" x2="643.8" y2="716.9" stroke="#ebebeb" stroke-width="1.3" />
<line x1="636.5" y1="680.5" x2="636.5" y2="815.5" stroke="#ebebeb" stroke-width="1.3" />
<line x1="494.6" y1="686.0" x2="643.8" y2="686.0" stroke="#ebebeb" stroke-width="1.3" />
<line x1="494.6" y1="815.5" x2="643.8" y2="680.5" stroke="#8f8f8f" stroke-width="1.25"/>
<polyline points="501.0,809.5 501.0,760.1 514.5,760.1 514.5,735.4 528.1,735.4 528.1,698.4 555.2,698.4 555.2,686.0 636.5,686.0" fill="none" stroke="#00008b" stroke-width="2.2" stroke-linejoin="miter"/>
<rect x="494.6" y="680.5" width="149.2" height="135.0" fill="none" stroke="#333" stroke-width="1.4" />
<line x1="491.0" y1="809.5" x2="494.6" y2="809.5" stroke="#333" stroke-width="1.3" />
<text x="488.3" y="813.7" font-size="12" text-anchor="end" font-weight="normal" fill="#222" >0.00</text>
<line x1="501.0" y1="815.5" x2="501.0" y2="819.3" stroke="#333" stroke-width="1.3" />
<text x="501.0" y="829.4" font-size="12" text-anchor="middle" font-weight="normal" fill="#222" >0.00</text>
<line x1="491.0" y1="778.6" x2="494.6" y2="778.6" stroke="#333" stroke-width="1.3" />
<text x="488.3" y="782.8" font-size="12" text-anchor="end" font-weight="normal" fill="#222" >0.25</text>
<line x1="534.9" y1="815.5" x2="534.9" y2="819.3" stroke="#333" stroke-width="1.3" />
<text x="534.9" y="829.4" font-size="12" text-anchor="middle" font-weight="normal" fill="#222" >0.25</text>
<line x1="491.0" y1="747.8" x2="494.6" y2="747.8" stroke="#333" stroke-width="1.3" />
<text x="488.3" y="752.0" font-size="12" text-anchor="end" font-weight="normal" fill="#222" >0.50</text>
<line x1="568.8" y1="815.5" x2="568.8" y2="819.3" stroke="#333" stroke-width="1.3" />
<text x="568.8" y="829.4" font-size="12" text-anchor="middle" font-weight="normal" fill="#222" >0.50</text>
<line x1="491.0" y1="716.9" x2="494.6" y2="716.9" stroke="#333" stroke-width="1.3" />
<text x="488.3" y="721.1" font-size="12" text-anchor="end" font-weight="normal" fill="#222" >0.75</text>
<line x1="602.6" y1="815.5" x2="602.6" y2="819.3" stroke="#333" stroke-width="1.3" />
<text x="602.6" y="829.4" font-size="12" text-anchor="middle" font-weight="normal" fill="#222" >0.75</text>
<line x1="491.0" y1="686.0" x2="494.6" y2="686.0" stroke="#333" stroke-width="1.3" />
<text x="488.3" y="690.2" font-size="12" text-anchor="end" font-weight="normal" fill="#222" >1.00</text>
<line x1="636.5" y1="815.5" x2="636.5" y2="819.3" stroke="#333" stroke-width="1.3" />
<text x="636.5" y="829.4" font-size="12" text-anchor="middle" font-weight="normal" fill="#222" >1.00</text>
<text x="538.5" y="795.3" font-size="10.6" text-anchor="start" font-weight="normal" fill="#111" >AUC = 0.88</text>
<text x="538.5" y="807.2" font-size="10.6" text-anchor="start" font-weight="normal" fill="#111" >(95% CI: 0.72 - 1.00)</text>
<text x="440.0" y="679.0" font-size="23.5" text-anchor="start" font-weight="bold" fill="#000" >G</text>
<text x="0" y="0" font-size="15" text-anchor="middle" transform="translate(458.5 747.3) rotate(-90)">sensitivity</text>
<text x="575.9" y="846.5" font-size="15" text-anchor="middle" font-weight="normal" fill="#000" >1-specificity</text>
<text x="2.5" y="680.8" font-size="23.5" text-anchor="start" font-weight="bold" fill="#000" >E</text>
<rect x="70.9" y="694.4" width="170.1" height="139.8" fill="#efefef" stroke="none" stroke-width="1" />
<rect x="70.9" y="694.4" width="5.0" height="139.8" fill="url(#g36)" stroke="none" stroke-width="1" />
<rect x="80.2" y="697.0" width="11.5" height="93.0" fill="url(#g37)" filter="url(#b3)"/>
<rect x="94.2" y="697.0" width="11.5" height="103.0" fill="url(#g38)" filter="url(#b3)"/>
<rect x="108.0" y="697.0" width="11.5" height="93.0" fill="url(#g39)" filter="url(#b3)"/>
<rect x="122.8" y="697.0" width="11.5" height="63.0" fill="url(#g40)" filter="url(#b3)"/>
<rect x="136.2" y="697.0" width="11.5" height="63.0" fill="url(#g41)" filter="url(#b3)"/>
<rect x="152.8" y="697.0" width="11.5" height="113.0" fill="url(#g42)" filter="url(#b3)"/>
<rect x="167.4" y="697.0" width="11.5" height="93.0" fill="url(#g43)" filter="url(#b3)"/>
<rect x="181.7" y="697.0" width="11.5" height="113.0" fill="url(#g44)" filter="url(#b3)"/>
<rect x="196.2" y="697.0" width="11.5" height="93.0" fill="url(#g45)" filter="url(#b3)"/>
<rect x="210.4" y="697.0" width="11.5" height="93.0" fill="url(#g46)" filter="url(#b3)"/>
<rect x="225.4" y="697.0" width="11.5" height="93.0" fill="url(#g47)" filter="url(#b3)"/>
<rect x="80.6" y="741.7" width="9.6" height="2.0" rx="1.0" fill="#000" fill-opacity="0.03" filter="url(#b1)"/>
<rect x="80.9" y="760.7" width="9.6" height="1.7" rx="0.8" fill="#000" fill-opacity="0.03" filter="url(#b1)"/>
<rect x="81.1" y="756.5" width="10.4" height="1.4" rx="0.7" fill="#000" fill-opacity="0.023" filter="url(#b1)"/>
<rect x="81.0" y="757.7" width="9.7" height="2.2" rx="1.1" fill="#000" fill-opacity="0.034" filter="url(#b1)"/>
<rect x="80.4" y="728.7" width="10.2" height="2.1" rx="1.1" fill="#000" fill-opacity="0.027" filter="url(#b1)"/>
<rect x="81.2" y="751.4" width="9.8" height="1.9" rx="1.0" fill="#000" fill-opacity="0.015" filter="url(#b1)"/>
<rect x="95.5" y="751.3" width="9.7" height="1.6" rx="0.8" fill="#000" fill-opacity="0.03" filter="url(#b1)"/>
<rect x="95.4" y="771.6" width="9.5" height="2.0" rx="1.0" fill="#000" fill-opacity="0.018" filter="url(#b1)"/>
<rect x="95.2" y="733.0" width="9.0" height="1.5" rx="0.7" fill="#000" fill-opacity="0.04" filter="url(#b1)"/>
<rect x="95.0" y="745.8" width="9.6" height="1.9" rx="0.9" fill="#000" fill-opacity="0.012" filter="url(#b1)"/>
<rect x="94.5" y="743.5" width="10.1" height="2.1" rx="1.1" fill="#000" fill-opacity="0.019" filter="url(#b1)"/>
<rect x="95.6" y="752.1" width="9.5" height="1.4" rx="0.7" fill="#000" fill-opacity="0.018" filter="url(#b1)"/>
<rect x="109.2" y="733.2" width="9.9" height="1.7" rx="0.8" fill="#000" fill-opacity="0.034" filter="url(#b1)"/>
<rect x="109.6" y="753.5" width="9.5" height="1.8" rx="0.9" fill="#000" fill-opacity="0.018" filter="url(#b1)"/>
<rect x="109.0" y="765.6" width="9.4" height="1.7" rx="0.9" fill="#000" fill-opacity="0.035" filter="url(#b1)"/>
<rect x="108.4" y="733.1" width="10.3" height="1.5" rx="0.7" fill="#000" fill-opacity="0.035" filter="url(#b1)"/>
<rect x="109.0" y="745.1" width="9.2" height="1.2" rx="0.6" fill="#000" fill-opacity="0.019" filter="url(#b1)"/>
<rect x="108.6" y="761.1" width="9.4" height="1.7" rx="0.8" fill="#000" fill-opacity="0.02" filter="url(#b1)"/>
<rect x="154.0" y="747.1" width="9.5" height="2.1" rx="1.1" fill="#000" fill-opacity="0.03" filter="url(#b1)"/>
<rect x="153.8" y="767.2" width="10.4" height="2.0" rx="1.0" fill="#000" fill-opacity="0.014" filter="url(#b1)"/>
<rect x="154.2" y="734.0" width="8.9" height="1.2" rx="0.6" fill="#000" fill-opacity="0.035" filter="url(#b1)"/>
<rect x="153.6" y="772.1" width="9.1" height="1.3" rx="0.7" fill="#000" fill-opacity="0.03" filter="url(#b1)"/>
<rect x="153.7" y="737.9" width="9.2" height="2.1" rx="1.1" fill="#000" fill-opacity="0.034" filter="url(#b1)"/>
<rect x="154.1" y="764.2" width="9.9" height="2.0" rx="1.0" fill="#000" fill-opacity="0.017" filter="url(#b1)"/>
<rect x="168.5" y="758.7" width="10.2" height="1.4" rx="0.7" fill="#000" fill-opacity="0.037" filter="url(#b1)"/>
<rect x="168.7" y="759.5" width="9.6" height="2.1" rx="1.0" fill="#000" fill-opacity="0.027" filter="url(#b1)"/>
<rect x="168.3" y="753.2" width="9.1" height="1.7" rx="0.8" fill="#000" fill-opacity="0.019" filter="url(#b1)"/>
<rect x="167.9" y="729.9" width="9.7" height="1.7" rx="0.8" fill="#000" fill-opacity="0.025" filter="url(#b1)"/>
<rect x="167.4" y="752.5" width="10.2" height="1.7" rx="0.8" fill="#000" fill-opacity="0.036" filter="url(#b1)"/>
<rect x="168.9" y="753.6" width="9.5" height="1.6" rx="0.8" fill="#000" fill-opacity="0.031" filter="url(#b1)"/>
<rect x="182.6" y="772.5" width="9.9" height="1.2" rx="0.6" fill="#000" fill-opacity="0.014" filter="url(#b1)"/>
<rect x="183.3" y="755.6" width="9.4" height="2.2" rx="1.1" fill="#000" fill-opacity="0.031" filter="url(#b1)"/>
<rect x="183.5" y="751.0" width="9.0" height="1.9" rx="1.0" fill="#000" fill-opacity="0.026" filter="url(#b1)"/>
<rect x="183.2" y="756.6" width="9.5" height="1.7" rx="0.8" fill="#000" fill-opacity="0.021" filter="url(#b1)"/>
<rect x="182.2" y="751.9" width="9.6" height="1.6" rx="0.8" fill="#000" fill-opacity="0.034" filter="url(#b1)"/>
<rect x="182.0" y="753.2" width="10.2" height="1.6" rx="0.8" fill="#000" fill-opacity="0.035" filter="url(#b1)"/>
<rect x="196.8" y="750.7" width="10.5" height="1.9" rx="0.9" fill="#000" fill-opacity="0.02" filter="url(#b1)"/>
<rect x="197.0" y="764.3" width="9.4" height="1.8" rx="0.9" fill="#000" fill-opacity="0.021" filter="url(#b1)"/>
<rect x="196.3" y="756.8" width="10.1" height="2.1" rx="1.0" fill="#000" fill-opacity="0.034" filter="url(#b1)"/>
<rect x="197.3" y="752.9" width="8.9" height="1.4" rx="0.7" fill="#000" fill-opacity="0.013" filter="url(#b1)"/>
<rect x="197.1" y="770.3" width="10.2" height="2.1" rx="1.1" fill="#000" fill-opacity="0.029" filter="url(#b1)"/>
<rect x="197.2" y="755.9" width="10.0" height="1.8" rx="0.9" fill="#000" fill-opacity="0.029" filter="url(#b1)"/>
<rect x="211.6" y="759.0" width="9.6" height="2.0" rx="1.0" fill="#000" fill-opacity="0.018" filter="url(#b1)"/>
<rect x="210.5" y="731.7" width="10.1" height="2.1" rx="1.1" fill="#000" fill-opacity="0.017" filter="url(#b1)"/>
<rect x="211.6" y="757.9" width="10.2" height="1.8" rx="0.9" fill="#000" fill-opacity="0.022" filter="url(#b1)"/>
<rect x="211.4" y="739.3" width="9.4" height="1.6" rx="0.8" fill="#000" fill-opacity="0.02" filter="url(#b1)"/>
<rect x="210.7" y="757.5" width="9.8" height="1.2" rx="0.6" fill="#000" fill-opacity="0.038" filter="url(#b1)"/>
<rect x="211.1" y="732.8" width="10.4" height="1.6" rx="0.8" fill="#000" fill-opacity="0.035" filter="url(#b1)"/>
<rect x="226.1" y="727.6" width="10.4" height="2.2" rx="1.1" fill="#000" fill-opacity="0.023" filter="url(#b1)"/>
<rect x="225.7" y="749.6" width="9.9" height="1.4" rx="0.7" fill="#000" fill-opacity="0.024" filter="url(#b1)"/>
<rect x="225.5" y="734.5" width="10.0" height="1.3" rx="0.7" fill="#000" fill-opacity="0.012" filter="url(#b1)"/>
<rect x="227.2" y="772.8" width="9.1" height="1.2" rx="0.6" fill="#000" fill-opacity="0.014" filter="url(#b1)"/>
<rect x="226.9" y="761.2" width="9.2" height="1.3" rx="0.6" fill="#000" fill-opacity="0.019" filter="url(#b1)"/>
<rect x="226.7" y="763.7" width="10.1" height="1.3" rx="0.6" fill="#000" fill-opacity="0.032" filter="url(#b1)"/>
<rect x="81.0" y="712.0" width="10.0" height="2.8" rx="1.4" fill="#000" fill-opacity="0.85" filter="url(#b1)"/>
<rect x="81.0" y="720.8" width="10.0" height="2.8" rx="1.4" fill="#000" fill-opacity="0.85" filter="url(#b1)"/>
<rect x="81.5" y="750.0" width="9.0" height="1.6" rx="0.8" fill="#000" fill-opacity="0.08" filter="url(#b1)"/>
<rect x="81.5" y="757.8" width="9.0" height="1.8" rx="0.9" fill="#000" fill-opacity="0.18" filter="url(#b1)"/>
<rect x="94.9" y="712.4" width="10.0" height="2.0" rx="1.0" fill="#000" fill-opacity="0.3" filter="url(#b1)"/>
<rect x="94.7" y="721.0" width="10.5" height="3.2" rx="1.6" fill="#000" fill-opacity="1" filter="url(#b1)"/>
<rect x="95.4" y="750.0" width="9.0" height="2.2" rx="1.1" fill="#000" fill-opacity="0.45" filter="url(#b1)"/>
<rect x="95.4" y="758.3" width="9.0" height="2.2" rx="1.1" fill="#000" fill-opacity="0.4" filter="url(#b1)"/>
<rect x="95.4" y="763.7" width="9.0" height="1.8" rx="0.9" fill="#000" fill-opacity="0.15" filter="url(#b1)"/>
<rect x="108.7" y="721.9" width="10.0" height="3.2" rx="1.6" fill="#000" fill-opacity="0.5" filter="url(#b1)"/>
<rect x="152.5" y="710.1" width="12.0" height="4.5" rx="2.2" fill="#000" fill-opacity="1" filter="url(#b1)"/>
<rect x="152.5" y="721.2" width="12.0" height="3.2" rx="1.6" fill="#000" fill-opacity="1" filter="url(#b1)"/>
<rect x="153.0" y="703.0" width="11.0" height="6.0" rx="3.0" fill="#000" fill-opacity="0.4" filter="url(#b1)"/>
<rect x="168.7" y="716.2" width="9.0" height="2.2" rx="1.1" fill="#000" fill-opacity="0.35" filter="url(#b1)"/>
<rect x="168.7" y="721.4" width="9.0" height="2.0" rx="1.0" fill="#000" fill-opacity="0.2" filter="url(#b1)"/>
<rect x="168.7" y="751.7" width="9.0" height="1.8" rx="0.9" fill="#000" fill-opacity="0.15" filter="url(#b1)"/>
<rect x="168.7" y="759.3" width="9.0" height="2.0" rx="1.0" fill="#000" fill-opacity="0.28" filter="url(#b1)"/>
<rect x="181.9" y="711.2" width="11.0" height="2.4" rx="1.2" fill="#000" fill-opacity="0.4" filter="url(#b1)"/>
<rect x="181.4" y="721.5" width="12.0" height="4.5" rx="2.2" fill="#000" fill-opacity="1" filter="url(#b1)"/>
<rect x="182.4" y="737.7" width="10.0" height="2.2" rx="1.1" fill="#000" fill-opacity="0.3" filter="url(#b1)"/>
<rect x="196.5" y="711.2" width="11.0" height="2.4" rx="1.2" fill="#000" fill-opacity="0.45" filter="url(#b1)"/>
<rect x="196.0" y="721.4" width="12.0" height="3.6" rx="1.8" fill="#000" fill-opacity="1" filter="url(#b1)"/>
<rect x="211.2" y="711.4" width="10.0" height="2.0" rx="1.0" fill="#000" fill-opacity="0.12" filter="url(#b1)"/>
<rect x="210.7" y="721.9" width="11.0" height="2.6" rx="1.3" fill="#000" fill-opacity="0.9" filter="url(#b1)"/>
<rect x="211.7" y="760.1" width="9.0" height="1.8" rx="0.9" fill="#000" fill-opacity="0.12" filter="url(#b1)"/>
<rect x="226.2" y="715.6" width="10.0" height="2.0" rx="1.0" fill="#000" fill-opacity="0.25" filter="url(#b1)"/>
<rect x="225.7" y="722.2" width="11.0" height="2.6" rx="1.3" fill="#000" fill-opacity="0.8" filter="url(#b1)"/>
<rect x="226.2" y="760.0" width="10.0" height="2.0" rx="1.0" fill="#000" fill-opacity="0.35" filter="url(#b1)"/>
<rect x="70.5" y="824.8" width="4.0" height="3.0" rx="1.5" fill="#000" fill-opacity="0.9" filter="url(#b1)"/>
<rect x="238.5" y="826.0" width="3.0" height="4.0" rx="1.5" fill="#000" fill-opacity="0.6" filter="url(#b1)"/>
<rect x="71.5" y="776.4" width="3.0" height="2.0" rx="1.0" fill="#000" fill-opacity="0.2" filter="url(#b1)"/>
<rect x="71.5" y="793.5" width="3.0" height="2.0" rx="1.0" fill="#000" fill-opacity="0.2" filter="url(#b1)"/>
<circle cx="189" cy="745" r="1.5" fill="#fff" filter="url(#b1)"/>
<rect x="70.9" y="694.4" width="170.1" height="139.8" fill="none" stroke="#474747" stroke-width="1.2" />
<line x1="70.3" y1="694.4" x2="241.6" y2="694.4" stroke="#1a1a1a" stroke-width="1.5" />
<rect x="64.8" y="714.3" width="181.6" height="19.0" fill="none" stroke="#e8141b" stroke-width="1.4" stroke-dasharray="4,2.5"/>
<text x="118.5" y="671.1" font-size="15.5" text-anchor="middle" font-weight="normal" fill="#000" >DP</text>
<text x="189.5" y="672.4" font-size="15.5" text-anchor="middle" font-weight="normal" fill="#000" >REM</text>
<line x1="79.3" y1="675.5" x2="149.6" y2="675.5" stroke="#000" stroke-width="1.5" />
<line x1="151.4" y1="675.5" x2="224.5" y2="675.5" stroke="#000" stroke-width="1.5" />
<line x1="79.4" y1="676.5" x2="79.4" y2="692.5" stroke="#000" stroke-width="1" stroke-dasharray="1.1,1.1" shape-rendering="crispEdges"/>
<line x1="92.9" y1="676.5" x2="92.9" y2="692.5" stroke="#000" stroke-width="1" stroke-dasharray="1.1,1.1" shape-rendering="crispEdges"/>
<line x1="106.5" y1="676.5" x2="106.5" y2="692.5" stroke="#000" stroke-width="1" stroke-dasharray="1.1,1.1" shape-rendering="crispEdges"/>
<line x1="121.2" y1="676.5" x2="121.2" y2="692.5" stroke="#000" stroke-width="1" stroke-dasharray="1.1,1.1" shape-rendering="crispEdges"/>
<line x1="136.1" y1="676.5" x2="136.1" y2="692.5" stroke="#000" stroke-width="1" stroke-dasharray="1.1,1.1" shape-rendering="crispEdges"/>
<line x1="149.6" y1="676.5" x2="149.6" y2="692.5" stroke="#000" stroke-width="1" stroke-dasharray="1.1,1.1" shape-rendering="crispEdges"/>
<line x1="151.2" y1="676.5" x2="151.2" y2="692.5" stroke="#000" stroke-width="1" stroke-dasharray="1.1,1.1" shape-rendering="crispEdges"/>
<line x1="166.5" y1="676.5" x2="166.5" y2="692.5" stroke="#000" stroke-width="1" stroke-dasharray="1.1,1.1" shape-rendering="crispEdges"/>
<line x1="180.8" y1="676.5" x2="180.8" y2="692.5" stroke="#000" stroke-width="1" stroke-dasharray="1.1,1.1" shape-rendering="crispEdges"/>
<line x1="195.5" y1="676.5" x2="195.5" y2="692.5" stroke="#000" stroke-width="1" stroke-dasharray="1.1,1.1" shape-rendering="crispEdges"/>
<line x1="210.1" y1="676.5" x2="210.1" y2="692.5" stroke="#000" stroke-width="1" stroke-dasharray="1.1,1.1" shape-rendering="crispEdges"/>
<line x1="224.1" y1="676.5" x2="224.1" y2="692.5" stroke="#000" stroke-width="1" stroke-dasharray="1.1,1.1" shape-rendering="crispEdges"/>
<text x="85.0" y="690.4" font-size="15.6" text-anchor="middle" font-weight="normal" fill="#000" >1</text>
<text x="98.6" y="690.4" font-size="15.6" text-anchor="middle" font-weight="normal" fill="#000" >2</text>
<text x="112.6" y="690.4" font-size="15.6" text-anchor="middle" font-weight="normal" fill="#000" >3</text>
<text x="127.4" y="690.4" font-size="15.6" text-anchor="middle" font-weight="normal" fill="#000" >4</text>
<text x="141.9" y="690.4" font-size="15.6" text-anchor="middle" font-weight="normal" fill="#000" >5</text>
<text x="158.8" y="690.4" font-size="15.6" text-anchor="middle" font-weight="normal" fill="#000" >1</text>
<text x="173.2" y="690.4" font-size="15.6" text-anchor="middle" font-weight="normal" fill="#000" >2</text>
<text x="188.0" y="690.4" font-size="15.6" text-anchor="middle" font-weight="normal" fill="#000" >3</text>
<text x="201.8" y="690.4" font-size="15.6" text-anchor="middle" font-weight="normal" fill="#000" >4</text>
<text x="216.6" y="690.4" font-size="15.6" text-anchor="middle" font-weight="normal" fill="#000" >5</text>
<text x="235.5" y="689.4" font-size="12.6" text-anchor="middle" font-weight="normal" fill="#000" >HC</text>
<text x="64.5" y="690.5" font-size="13" text-anchor="start" font-weight="normal" fill="#000" >#</text>
<text x="62.3" y="715.3" font-size="15.6" text-anchor="end" font-weight="normal" fill="#000"  textLength="40.6" lengthAdjust="spacingAndGlyphs">(kDa)</text>
<text x="62.3" y="729.0" font-size="14.6" text-anchor="end" font-weight="normal" fill="#000"  textLength="28.2" lengthAdjust="spacingAndGlyphs">250</text>
<line x1="64.5" y1="724.3" x2="71.0" y2="724.3" stroke="#000" stroke-width="1.6" />
<text x="62.3" y="741.3" font-size="14.6" text-anchor="end" font-weight="normal" fill="#000"  textLength="28.2" lengthAdjust="spacingAndGlyphs">150</text>
<line x1="64.5" y1="736.6" x2="71.0" y2="736.6" stroke="#000" stroke-width="1.6" />
<text x="62.3" y="753.3" font-size="14.6" text-anchor="end" font-weight="normal" fill="#000"  textLength="28.2" lengthAdjust="spacingAndGlyphs">100</text>
<line x1="64.5" y1="748.0" x2="71.0" y2="748.0" stroke="#000" stroke-width="1.6" />
<text x="62.3" y="764.7" font-size="14.6" text-anchor="end" font-weight="normal" fill="#000"  textLength="19.3" lengthAdjust="spacingAndGlyphs">75</text>
<line x1="64.5" y1="759.6" x2="71.0" y2="759.6" stroke="#000" stroke-width="1.6" />
<text x="62.3" y="784.6" font-size="14.6" text-anchor="end" font-weight="normal" fill="#000"  textLength="19.3" lengthAdjust="spacingAndGlyphs">50</text>
<line x1="64.5" y1="777.4" x2="71.0" y2="777.4" stroke="#000" stroke-width="1.6" />
<text x="62.3" y="801.7" font-size="14.6" text-anchor="end" font-weight="normal" fill="#000"  textLength="19.3" lengthAdjust="spacingAndGlyphs">37</text>
<line x1="64.5" y1="794.5" x2="71.0" y2="794.5" stroke="#000" stroke-width="1.6" />
<text x="62.3" y="826.3" font-size="14.6" text-anchor="end" font-weight="normal" fill="#000"  textLength="19.3" lengthAdjust="spacingAndGlyphs">25</text>
<line x1="64.5" y1="821.2" x2="71.0" y2="821.2" stroke="#000" stroke-width="1.6" />
<text x="153.7" y="852.6" font-size="19.5" text-anchor="middle" font-weight="normal" fill="#000" transform="translate(153.7 0) scale(0.85 1) translate(-153.7 0)">WGA</text>
<text x="264.4" y="678.9" font-size="23.5" text-anchor="start" font-weight="bold" fill="#000" >F</text>
<line x1="326.5" y1="679.2" x2="326.5" y2="821.7" stroke="#333" stroke-width="1.3" />
<line x1="325.9" y1="821.4" x2="432.5" y2="821.4" stroke="#333" stroke-width="1.3" />
<line x1="324.4" y1="685.0" x2="326.5" y2="685.0" stroke="#333" stroke-width="1.2" />
<text x="318.6" y="689.0" font-size="12" text-anchor="end" font-weight="normal" fill="#222" >15</text>
<line x1="324.4" y1="728.8" x2="326.5" y2="728.8" stroke="#333" stroke-width="1.2" />
<text x="318.6" y="732.8" font-size="12" text-anchor="end" font-weight="normal" fill="#222" >10</text>
<line x1="324.4" y1="772.0" x2="326.5" y2="772.0" stroke="#333" stroke-width="1.2" />
<text x="318.6" y="776.0" font-size="12" text-anchor="end" font-weight="normal" fill="#222" >5</text>
<line x1="324.4" y1="815.0" x2="326.5" y2="815.0" stroke="#333" stroke-width="1.2" />
<text x="318.6" y="819.0" font-size="12" text-anchor="end" font-weight="normal" fill="#222" >0</text>
<line x1="354.9" y1="821.7" x2="354.9" y2="825.0" stroke="#333" stroke-width="1.2" />
<line x1="403.0" y1="821.7" x2="403.0" y2="825.0" stroke="#333" stroke-width="1.2" />
<text x="354.9" y="835.5" font-size="12.6" text-anchor="middle" font-weight="normal" fill="#000" >DP</text>
<text x="403.0" y="835.5" font-size="12.6" text-anchor="middle" font-weight="normal" fill="#000" >REM</text>
<text x="0" y="0" font-size="13.3" text-anchor="middle" textLength="106.5" lengthAdjust="spacingAndGlyphs" transform="translate(296.6 749.7) rotate(-90)">WGA Intensity&#160;&#160;(10<tspan font-size="9" dy="-5.5">3</tspan><tspan dy="5.5">)</tspan></text>
<line x1="354.7" y1="782.3" x2="354.7" y2="800.3" stroke="#3a7ebf" stroke-width="1.4" />
<rect x="343.1" y="800.3" width="24.5" height="14.2" fill="#b7d0e9" stroke="#3a7ebf" stroke-width="1.4" />
<line x1="343.1" y1="812.6" x2="367.6" y2="812.6" stroke="#3a7ebf" stroke-width="1.8" />
<line x1="403.3" y1="745.5" x2="403.3" y2="756.0" stroke="#f58a5e" stroke-width="1.4" />
<line x1="403.3" y1="792.8" x2="403.3" y2="806.6" stroke="#f58a5e" stroke-width="1.4" />
<rect x="391.8" y="756.0" width="24.4" height="36.8" fill="#fcd3b8" stroke="#f58a5e" stroke-width="1.4" />
<line x1="391.8" y1="772.5" x2="416.2" y2="772.5" stroke="#f58a5e" stroke-width="1.8" />
<line x1="354.7" y1="760.4" x2="403.3" y2="791.5" stroke="#b4b4b4" stroke-width="1.1" />
<line x1="354.7" y1="782.3" x2="403.3" y2="757.3" stroke="#b4b4b4" stroke-width="1.1" />
<line x1="354.7" y1="799.1" x2="403.3" y2="774.4" stroke="#b4b4b4" stroke-width="1.1" />
<line x1="354.7" y1="804.0" x2="403.3" y2="794.8" stroke="#b4b4b4" stroke-width="1.1" />
<line x1="354.7" y1="811.2" x2="403.3" y2="745.5" stroke="#b4b4b4" stroke-width="1.1" />
<line x1="354.7" y1="812.5" x2="403.3" y2="756.0" stroke="#b4b4b4" stroke-width="1.1" />
<line x1="354.7" y1="813.6" x2="403.3" y2="770.5" stroke="#b4b4b4" stroke-width="1.1" />
<line x1="354.7" y1="815.2" x2="403.3" y2="806.6" stroke="#b4b4b4" stroke-width="1.1" />
<line x1="354.7" y1="811.0" x2="403.3" y2="791.5" stroke="#b4b4b4" stroke-width="1.1" />
<circle cx="354.7" cy="760.4" r="2.6" fill="#3a7ebf" />
<circle cx="354.7" cy="782.3" r="2.6" fill="#3a7ebf" />
<circle cx="354.7" cy="799.1" r="2.6" fill="#3a7ebf" />
<circle cx="354.7" cy="804.0" r="2.6" fill="#3a7ebf" />
<circle cx="354.7" cy="811.2" r="2.6" fill="#3a7ebf" />
<circle cx="354.7" cy="812.5" r="2.6" fill="#3a7ebf" />
<circle cx="354.7" cy="813.6" r="2.6" fill="#3a7ebf" />
<circle cx="354.7" cy="815.2" r="2.6" fill="#3a7ebf" />
<circle cx="354.7" cy="811.0" r="2.6" fill="#3a7ebf" />
<circle cx="403.3" cy="791.5" r="2.6" fill="#f58a5e" />
<circle cx="403.3" cy="757.3" r="2.6" fill="#f58a5e" />
<circle cx="403.3" cy="774.4" r="2.6" fill="#f58a5e" />
<circle cx="403.3" cy="794.8" r="2.6" fill="#f58a5e" />
<circle cx="403.3" cy="745.5" r="2.6" fill="#f58a5e" />
<circle cx="403.3" cy="756.0" r="2.6" fill="#f58a5e" />
<circle cx="403.3" cy="770.5" r="2.6" fill="#f58a5e" />
<circle cx="403.3" cy="806.6" r="2.6" fill="#f58a5e" />
<circle cx="403.3" cy="791.5" r="2.6" fill="#f58a5e" />
<text x="403.5" y="726.5" font-size="13" text-anchor="middle" font-weight="normal" fill="#000" >**</text>
</svg>
</body></html>
